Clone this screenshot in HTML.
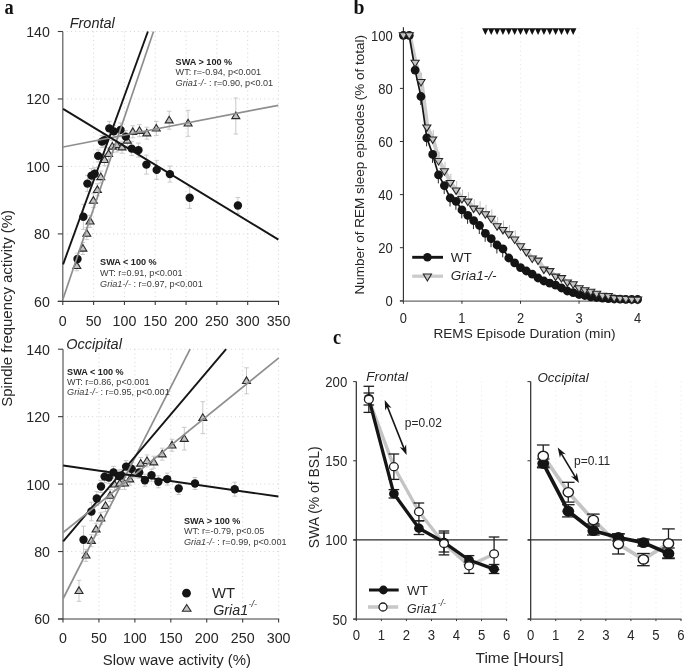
<!DOCTYPE html>
<html><head><meta charset="utf-8"><style>
html,body{margin:0;padding:0;background:#fff;}
svg{display:block;filter:blur(0.3px);}
</style></head><body>
<svg width="685" height="669" viewBox="0 0 685 669">
<rect width="685" height="669" fill="#fff"/>
<line x1="93.61" y1="31.50" x2="93.61" y2="301.40" stroke="#cfcfcf" stroke-width="0.9" stroke-dasharray="1 3.2"/>
<line x1="124.43" y1="31.50" x2="124.43" y2="301.40" stroke="#cfcfcf" stroke-width="0.9" stroke-dasharray="1 3.2"/>
<line x1="155.24" y1="31.50" x2="155.24" y2="301.40" stroke="#cfcfcf" stroke-width="0.9" stroke-dasharray="1 3.2"/>
<line x1="186.06" y1="31.50" x2="186.06" y2="301.40" stroke="#cfcfcf" stroke-width="0.9" stroke-dasharray="1 3.2"/>
<line x1="216.87" y1="31.50" x2="216.87" y2="301.40" stroke="#cfcfcf" stroke-width="0.9" stroke-dasharray="1 3.2"/>
<line x1="247.69" y1="31.50" x2="247.69" y2="301.40" stroke="#cfcfcf" stroke-width="0.9" stroke-dasharray="1 3.2"/>
<line x1="278.50" y1="31.50" x2="278.50" y2="301.40" stroke="#cfcfcf" stroke-width="0.9" stroke-dasharray="1 3.2"/>
<line x1="66.80" y1="233.92" x2="278.50" y2="233.92" stroke="#cfcfcf" stroke-width="0.9" stroke-dasharray="1 3.2"/>
<line x1="66.80" y1="166.45" x2="278.50" y2="166.45" stroke="#cfcfcf" stroke-width="0.9" stroke-dasharray="1 3.2"/>
<line x1="66.80" y1="98.97" x2="278.50" y2="98.97" stroke="#cfcfcf" stroke-width="0.9" stroke-dasharray="1 3.2"/>
<line x1="66.80" y1="31.50" x2="278.50" y2="31.50" stroke="#cfcfcf" stroke-width="0.9" stroke-dasharray="1 3.2"/>
<line x1="62.80" y1="31.50" x2="62.80" y2="301.40" stroke="#5a5a5a" stroke-width="1.2" />
<line x1="57.80" y1="301.40" x2="279.10" y2="301.40" stroke="#3c3c3c" stroke-width="1.2" />
<line x1="57.80" y1="301.40" x2="62.80" y2="301.40" stroke="#3c3c3c" stroke-width="1.1" />
<text transform="translate(49.80,306.80) scale(0.94,1)" font-family='"Liberation Sans", sans-serif' font-size="15.1" fill="#262626" text-anchor="end" font-weight="normal" font-style="normal" >60</text>
<line x1="57.80" y1="233.92" x2="62.80" y2="233.92" stroke="#3c3c3c" stroke-width="1.1" />
<text transform="translate(49.80,239.32) scale(0.94,1)" font-family='"Liberation Sans", sans-serif' font-size="15.1" fill="#262626" text-anchor="end" font-weight="normal" font-style="normal" >80</text>
<line x1="57.80" y1="166.45" x2="62.80" y2="166.45" stroke="#3c3c3c" stroke-width="1.1" />
<text transform="translate(49.80,171.85) scale(0.94,1)" font-family='"Liberation Sans", sans-serif' font-size="15.1" fill="#262626" text-anchor="end" font-weight="normal" font-style="normal" >100</text>
<line x1="57.80" y1="98.97" x2="62.80" y2="98.97" stroke="#3c3c3c" stroke-width="1.1" />
<text transform="translate(49.80,104.38) scale(0.94,1)" font-family='"Liberation Sans", sans-serif' font-size="15.1" fill="#262626" text-anchor="end" font-weight="normal" font-style="normal" >120</text>
<line x1="57.80" y1="31.50" x2="62.80" y2="31.50" stroke="#3c3c3c" stroke-width="1.1" />
<text transform="translate(49.80,36.90) scale(0.94,1)" font-family='"Liberation Sans", sans-serif' font-size="15.1" fill="#262626" text-anchor="end" font-weight="normal" font-style="normal" >140</text>
<line x1="62.80" y1="301.40" x2="62.80" y2="305.00" stroke="#3c3c3c" stroke-width="1.1" />
<text transform="translate(62.80,325.60) scale(0.95,1)" font-family='"Liberation Sans", sans-serif' font-size="15.0" fill="#262626" text-anchor="middle" font-weight="normal" font-style="normal" >0</text>
<line x1="93.61" y1="301.40" x2="93.61" y2="305.00" stroke="#3c3c3c" stroke-width="1.1" />
<text transform="translate(93.61,325.60) scale(0.95,1)" font-family='"Liberation Sans", sans-serif' font-size="15.0" fill="#262626" text-anchor="middle" font-weight="normal" font-style="normal" >50</text>
<line x1="124.43" y1="301.40" x2="124.43" y2="305.00" stroke="#3c3c3c" stroke-width="1.1" />
<text transform="translate(124.43,325.60) scale(0.95,1)" font-family='"Liberation Sans", sans-serif' font-size="15.0" fill="#262626" text-anchor="middle" font-weight="normal" font-style="normal" >100</text>
<line x1="155.24" y1="301.40" x2="155.24" y2="305.00" stroke="#3c3c3c" stroke-width="1.1" />
<text transform="translate(155.24,325.60) scale(0.95,1)" font-family='"Liberation Sans", sans-serif' font-size="15.0" fill="#262626" text-anchor="middle" font-weight="normal" font-style="normal" >150</text>
<line x1="186.06" y1="301.40" x2="186.06" y2="305.00" stroke="#3c3c3c" stroke-width="1.1" />
<text transform="translate(186.06,325.60) scale(0.95,1)" font-family='"Liberation Sans", sans-serif' font-size="15.0" fill="#262626" text-anchor="middle" font-weight="normal" font-style="normal" >200</text>
<line x1="216.87" y1="301.40" x2="216.87" y2="305.00" stroke="#3c3c3c" stroke-width="1.1" />
<text transform="translate(216.87,325.60) scale(0.95,1)" font-family='"Liberation Sans", sans-serif' font-size="15.0" fill="#262626" text-anchor="middle" font-weight="normal" font-style="normal" >250</text>
<line x1="247.69" y1="301.40" x2="247.69" y2="305.00" stroke="#3c3c3c" stroke-width="1.1" />
<text transform="translate(247.69,325.60) scale(0.95,1)" font-family='"Liberation Sans", sans-serif' font-size="15.0" fill="#262626" text-anchor="middle" font-weight="normal" font-style="normal" >300</text>
<line x1="278.50" y1="301.40" x2="278.50" y2="305.00" stroke="#3c3c3c" stroke-width="1.1" />
<text transform="translate(278.50,325.60) scale(0.95,1)" font-family='"Liberation Sans", sans-serif' font-size="15.0" fill="#262626" text-anchor="middle" font-weight="normal" font-style="normal" >350</text>
<text x="69.70" y="28.40" font-family='"Liberation Sans", sans-serif' font-size="14.5" fill="#262626" text-anchor="start" font-weight="normal" font-style="italic" >Frontal</text>
<line x1="76.80" y1="260.80" x2="76.80" y2="270.80" stroke="#c4c4c4" stroke-width="0.9" />
<line x1="74.50" y1="260.80" x2="79.10" y2="260.80" stroke="#c4c4c4" stroke-width="0.9" />
<line x1="74.50" y1="270.80" x2="79.10" y2="270.80" stroke="#c4c4c4" stroke-width="0.9" />
<line x1="82.90" y1="242.50" x2="82.90" y2="254.50" stroke="#c4c4c4" stroke-width="0.9" />
<line x1="80.60" y1="242.50" x2="85.20" y2="242.50" stroke="#c4c4c4" stroke-width="0.9" />
<line x1="80.60" y1="254.50" x2="85.20" y2="254.50" stroke="#c4c4c4" stroke-width="0.9" />
<line x1="86.80" y1="227.60" x2="86.80" y2="239.60" stroke="#c4c4c4" stroke-width="0.9" />
<line x1="84.50" y1="227.60" x2="89.10" y2="227.60" stroke="#c4c4c4" stroke-width="0.9" />
<line x1="84.50" y1="239.60" x2="89.10" y2="239.60" stroke="#c4c4c4" stroke-width="0.9" />
<line x1="90.10" y1="215.30" x2="90.10" y2="227.30" stroke="#c4c4c4" stroke-width="0.9" />
<line x1="87.80" y1="215.30" x2="92.40" y2="215.30" stroke="#c4c4c4" stroke-width="0.9" />
<line x1="87.80" y1="227.30" x2="92.40" y2="227.30" stroke="#c4c4c4" stroke-width="0.9" />
<line x1="93.40" y1="193.60" x2="93.40" y2="207.60" stroke="#c4c4c4" stroke-width="0.9" />
<line x1="91.10" y1="193.60" x2="95.70" y2="193.60" stroke="#c4c4c4" stroke-width="0.9" />
<line x1="91.10" y1="207.60" x2="95.70" y2="207.60" stroke="#c4c4c4" stroke-width="0.9" />
<line x1="97.40" y1="183.80" x2="97.40" y2="195.80" stroke="#c4c4c4" stroke-width="0.9" />
<line x1="95.10" y1="183.80" x2="99.70" y2="183.80" stroke="#c4c4c4" stroke-width="0.9" />
<line x1="95.10" y1="195.80" x2="99.70" y2="195.80" stroke="#c4c4c4" stroke-width="0.9" />
<line x1="100.80" y1="171.00" x2="100.80" y2="183.00" stroke="#c4c4c4" stroke-width="0.9" />
<line x1="98.50" y1="171.00" x2="103.10" y2="171.00" stroke="#c4c4c4" stroke-width="0.9" />
<line x1="98.50" y1="183.00" x2="103.10" y2="183.00" stroke="#c4c4c4" stroke-width="0.9" />
<line x1="104.50" y1="153.80" x2="104.50" y2="165.80" stroke="#c4c4c4" stroke-width="0.9" />
<line x1="102.20" y1="153.80" x2="106.80" y2="153.80" stroke="#c4c4c4" stroke-width="0.9" />
<line x1="102.20" y1="165.80" x2="106.80" y2="165.80" stroke="#c4c4c4" stroke-width="0.9" />
<line x1="108.60" y1="147.80" x2="108.60" y2="159.80" stroke="#c4c4c4" stroke-width="0.9" />
<line x1="106.30" y1="147.80" x2="110.90" y2="147.80" stroke="#c4c4c4" stroke-width="0.9" />
<line x1="106.30" y1="159.80" x2="110.90" y2="159.80" stroke="#c4c4c4" stroke-width="0.9" />
<line x1="112.30" y1="140.50" x2="112.30" y2="152.50" stroke="#c4c4c4" stroke-width="0.9" />
<line x1="110.00" y1="140.50" x2="114.60" y2="140.50" stroke="#c4c4c4" stroke-width="0.9" />
<line x1="110.00" y1="152.50" x2="114.60" y2="152.50" stroke="#c4c4c4" stroke-width="0.9" />
<line x1="116.80" y1="138.00" x2="116.80" y2="152.00" stroke="#c4c4c4" stroke-width="0.9" />
<line x1="114.50" y1="138.00" x2="119.10" y2="138.00" stroke="#c4c4c4" stroke-width="0.9" />
<line x1="114.50" y1="152.00" x2="119.10" y2="152.00" stroke="#c4c4c4" stroke-width="0.9" />
<line x1="122.00" y1="141.20" x2="122.00" y2="153.20" stroke="#c4c4c4" stroke-width="0.9" />
<line x1="119.70" y1="141.20" x2="124.30" y2="141.20" stroke="#c4c4c4" stroke-width="0.9" />
<line x1="119.70" y1="153.20" x2="124.30" y2="153.20" stroke="#c4c4c4" stroke-width="0.9" />
<line x1="127.30" y1="134.50" x2="127.30" y2="146.50" stroke="#c4c4c4" stroke-width="0.9" />
<line x1="125.00" y1="134.50" x2="129.60" y2="134.50" stroke="#c4c4c4" stroke-width="0.9" />
<line x1="125.00" y1="146.50" x2="129.60" y2="146.50" stroke="#c4c4c4" stroke-width="0.9" />
<line x1="132.80" y1="125.80" x2="132.80" y2="137.80" stroke="#c4c4c4" stroke-width="0.9" />
<line x1="130.50" y1="125.80" x2="135.10" y2="125.80" stroke="#c4c4c4" stroke-width="0.9" />
<line x1="130.50" y1="137.80" x2="135.10" y2="137.80" stroke="#c4c4c4" stroke-width="0.9" />
<line x1="139.50" y1="124.70" x2="139.50" y2="136.70" stroke="#c4c4c4" stroke-width="0.9" />
<line x1="137.20" y1="124.70" x2="141.80" y2="124.70" stroke="#c4c4c4" stroke-width="0.9" />
<line x1="137.20" y1="136.70" x2="141.80" y2="136.70" stroke="#c4c4c4" stroke-width="0.9" />
<line x1="146.80" y1="127.20" x2="146.80" y2="139.20" stroke="#c4c4c4" stroke-width="0.9" />
<line x1="144.50" y1="127.20" x2="149.10" y2="127.20" stroke="#c4c4c4" stroke-width="0.9" />
<line x1="144.50" y1="139.20" x2="149.10" y2="139.20" stroke="#c4c4c4" stroke-width="0.9" />
<line x1="156.30" y1="121.40" x2="156.30" y2="135.40" stroke="#c4c4c4" stroke-width="0.9" />
<line x1="154.00" y1="121.40" x2="158.60" y2="121.40" stroke="#c4c4c4" stroke-width="0.9" />
<line x1="154.00" y1="135.40" x2="158.60" y2="135.40" stroke="#c4c4c4" stroke-width="0.9" />
<line x1="169.20" y1="111.20" x2="169.20" y2="129.20" stroke="#c4c4c4" stroke-width="0.9" />
<line x1="166.90" y1="111.20" x2="171.50" y2="111.20" stroke="#c4c4c4" stroke-width="0.9" />
<line x1="166.90" y1="129.20" x2="171.50" y2="129.20" stroke="#c4c4c4" stroke-width="0.9" />
<line x1="188.10" y1="110.30" x2="188.10" y2="136.30" stroke="#c4c4c4" stroke-width="0.9" />
<line x1="185.80" y1="110.30" x2="190.40" y2="110.30" stroke="#c4c4c4" stroke-width="0.9" />
<line x1="185.80" y1="136.30" x2="190.40" y2="136.30" stroke="#c4c4c4" stroke-width="0.9" />
<line x1="235.80" y1="98.00" x2="235.80" y2="134.00" stroke="#c4c4c4" stroke-width="0.9" />
<line x1="233.50" y1="98.00" x2="238.10" y2="98.00" stroke="#c4c4c4" stroke-width="0.9" />
<line x1="233.50" y1="134.00" x2="238.10" y2="134.00" stroke="#c4c4c4" stroke-width="0.9" />
<line x1="77.50" y1="253.00" x2="77.50" y2="265.00" stroke="#c4c4c4" stroke-width="0.9" />
<line x1="75.20" y1="253.00" x2="79.80" y2="253.00" stroke="#c4c4c4" stroke-width="0.9" />
<line x1="75.20" y1="265.00" x2="79.80" y2="265.00" stroke="#c4c4c4" stroke-width="0.9" />
<line x1="83.40" y1="204.30" x2="83.40" y2="229.30" stroke="#c4c4c4" stroke-width="0.9" />
<line x1="81.10" y1="204.30" x2="85.70" y2="204.30" stroke="#c4c4c4" stroke-width="0.9" />
<line x1="81.10" y1="229.30" x2="85.70" y2="229.30" stroke="#c4c4c4" stroke-width="0.9" />
<line x1="87.40" y1="175.60" x2="87.40" y2="191.60" stroke="#c4c4c4" stroke-width="0.9" />
<line x1="85.10" y1="175.60" x2="89.70" y2="175.60" stroke="#c4c4c4" stroke-width="0.9" />
<line x1="85.10" y1="191.60" x2="89.70" y2="191.60" stroke="#c4c4c4" stroke-width="0.9" />
<line x1="91.50" y1="168.60" x2="91.50" y2="182.60" stroke="#c4c4c4" stroke-width="0.9" />
<line x1="89.20" y1="168.60" x2="93.80" y2="168.60" stroke="#c4c4c4" stroke-width="0.9" />
<line x1="89.20" y1="182.60" x2="93.80" y2="182.60" stroke="#c4c4c4" stroke-width="0.9" />
<line x1="94.70" y1="167.70" x2="94.70" y2="179.70" stroke="#c4c4c4" stroke-width="0.9" />
<line x1="92.40" y1="167.70" x2="97.00" y2="167.70" stroke="#c4c4c4" stroke-width="0.9" />
<line x1="92.40" y1="179.70" x2="97.00" y2="179.70" stroke="#c4c4c4" stroke-width="0.9" />
<line x1="98.20" y1="149.90" x2="98.20" y2="161.90" stroke="#c4c4c4" stroke-width="0.9" />
<line x1="95.90" y1="149.90" x2="100.50" y2="149.90" stroke="#c4c4c4" stroke-width="0.9" />
<line x1="95.90" y1="161.90" x2="100.50" y2="161.90" stroke="#c4c4c4" stroke-width="0.9" />
<line x1="101.90" y1="135.60" x2="101.90" y2="147.60" stroke="#c4c4c4" stroke-width="0.9" />
<line x1="99.60" y1="135.60" x2="104.20" y2="135.60" stroke="#c4c4c4" stroke-width="0.9" />
<line x1="99.60" y1="147.60" x2="104.20" y2="147.60" stroke="#c4c4c4" stroke-width="0.9" />
<line x1="104.50" y1="134.30" x2="104.50" y2="146.30" stroke="#c4c4c4" stroke-width="0.9" />
<line x1="102.20" y1="134.30" x2="106.80" y2="134.30" stroke="#c4c4c4" stroke-width="0.9" />
<line x1="102.20" y1="146.30" x2="106.80" y2="146.30" stroke="#c4c4c4" stroke-width="0.9" />
<line x1="109.30" y1="121.40" x2="109.30" y2="135.40" stroke="#c4c4c4" stroke-width="0.9" />
<line x1="107.00" y1="121.40" x2="111.60" y2="121.40" stroke="#c4c4c4" stroke-width="0.9" />
<line x1="107.00" y1="135.40" x2="111.60" y2="135.40" stroke="#c4c4c4" stroke-width="0.9" />
<line x1="113.80" y1="125.40" x2="113.80" y2="137.40" stroke="#c4c4c4" stroke-width="0.9" />
<line x1="111.50" y1="125.40" x2="116.10" y2="125.40" stroke="#c4c4c4" stroke-width="0.9" />
<line x1="111.50" y1="137.40" x2="116.10" y2="137.40" stroke="#c4c4c4" stroke-width="0.9" />
<line x1="120.50" y1="122.90" x2="120.50" y2="136.90" stroke="#c4c4c4" stroke-width="0.9" />
<line x1="118.20" y1="122.90" x2="122.80" y2="122.90" stroke="#c4c4c4" stroke-width="0.9" />
<line x1="118.20" y1="136.90" x2="122.80" y2="136.90" stroke="#c4c4c4" stroke-width="0.9" />
<line x1="125.80" y1="130.60" x2="125.80" y2="142.60" stroke="#c4c4c4" stroke-width="0.9" />
<line x1="123.50" y1="130.60" x2="128.10" y2="130.60" stroke="#c4c4c4" stroke-width="0.9" />
<line x1="123.50" y1="142.60" x2="128.10" y2="142.60" stroke="#c4c4c4" stroke-width="0.9" />
<line x1="131.70" y1="141.60" x2="131.70" y2="155.60" stroke="#c4c4c4" stroke-width="0.9" />
<line x1="129.40" y1="141.60" x2="134.00" y2="141.60" stroke="#c4c4c4" stroke-width="0.9" />
<line x1="129.40" y1="155.60" x2="134.00" y2="155.60" stroke="#c4c4c4" stroke-width="0.9" />
<line x1="138.50" y1="143.10" x2="138.50" y2="157.10" stroke="#c4c4c4" stroke-width="0.9" />
<line x1="136.20" y1="143.10" x2="140.80" y2="143.10" stroke="#c4c4c4" stroke-width="0.9" />
<line x1="136.20" y1="157.10" x2="140.80" y2="157.10" stroke="#c4c4c4" stroke-width="0.9" />
<line x1="146.40" y1="155.10" x2="146.40" y2="174.10" stroke="#c4c4c4" stroke-width="0.9" />
<line x1="144.10" y1="155.10" x2="148.70" y2="155.10" stroke="#c4c4c4" stroke-width="0.9" />
<line x1="144.10" y1="174.10" x2="148.70" y2="174.10" stroke="#c4c4c4" stroke-width="0.9" />
<line x1="156.70" y1="160.40" x2="156.70" y2="179.40" stroke="#c4c4c4" stroke-width="0.9" />
<line x1="154.40" y1="160.40" x2="159.00" y2="160.40" stroke="#c4c4c4" stroke-width="0.9" />
<line x1="154.40" y1="179.40" x2="159.00" y2="179.40" stroke="#c4c4c4" stroke-width="0.9" />
<line x1="169.90" y1="166.10" x2="169.90" y2="182.10" stroke="#c4c4c4" stroke-width="0.9" />
<line x1="167.60" y1="166.10" x2="172.20" y2="166.10" stroke="#c4c4c4" stroke-width="0.9" />
<line x1="167.60" y1="182.10" x2="172.20" y2="182.10" stroke="#c4c4c4" stroke-width="0.9" />
<line x1="189.70" y1="187.00" x2="189.70" y2="208.40" stroke="#c4c4c4" stroke-width="0.9" />
<line x1="187.40" y1="187.00" x2="192.00" y2="187.00" stroke="#c4c4c4" stroke-width="0.9" />
<line x1="187.40" y1="208.40" x2="192.00" y2="208.40" stroke="#c4c4c4" stroke-width="0.9" />
<line x1="237.90" y1="197.50" x2="237.90" y2="213.50" stroke="#c4c4c4" stroke-width="0.9" />
<line x1="235.60" y1="197.50" x2="240.20" y2="197.50" stroke="#c4c4c4" stroke-width="0.9" />
<line x1="235.60" y1="213.50" x2="240.20" y2="213.50" stroke="#c4c4c4" stroke-width="0.9" />
<polygon points="76.80,261.84 72.80,268.44 80.80,268.44" fill="#c2c2c2" stroke="#2a2a2a" stroke-width="1.1" stroke-linejoin="miter"/>
<polygon points="82.90,244.54 78.90,251.14 86.90,251.14" fill="#c2c2c2" stroke="#2a2a2a" stroke-width="1.1" stroke-linejoin="miter"/>
<polygon points="86.80,229.64 82.80,236.24 90.80,236.24" fill="#c2c2c2" stroke="#2a2a2a" stroke-width="1.1" stroke-linejoin="miter"/>
<polygon points="90.10,217.34 86.10,223.94 94.10,223.94" fill="#c2c2c2" stroke="#2a2a2a" stroke-width="1.1" stroke-linejoin="miter"/>
<polygon points="93.40,196.64 89.40,203.24 97.40,203.24" fill="#c2c2c2" stroke="#2a2a2a" stroke-width="1.1" stroke-linejoin="miter"/>
<polygon points="97.40,185.84 93.40,192.44 101.40,192.44" fill="#c2c2c2" stroke="#2a2a2a" stroke-width="1.1" stroke-linejoin="miter"/>
<polygon points="100.80,173.04 96.80,179.64 104.80,179.64" fill="#c2c2c2" stroke="#2a2a2a" stroke-width="1.1" stroke-linejoin="miter"/>
<polygon points="104.50,155.84 100.50,162.44 108.50,162.44" fill="#c2c2c2" stroke="#2a2a2a" stroke-width="1.1" stroke-linejoin="miter"/>
<polygon points="108.60,149.84 104.60,156.44 112.60,156.44" fill="#c2c2c2" stroke="#2a2a2a" stroke-width="1.1" stroke-linejoin="miter"/>
<polygon points="112.30,142.54 108.30,149.14 116.30,149.14" fill="#c2c2c2" stroke="#2a2a2a" stroke-width="1.1" stroke-linejoin="miter"/>
<polygon points="116.80,141.04 112.80,147.64 120.80,147.64" fill="#c2c2c2" stroke="#2a2a2a" stroke-width="1.1" stroke-linejoin="miter"/>
<polygon points="122.00,143.24 118.00,149.84 126.00,149.84" fill="#c2c2c2" stroke="#2a2a2a" stroke-width="1.1" stroke-linejoin="miter"/>
<polygon points="127.30,136.54 123.30,143.14 131.30,143.14" fill="#c2c2c2" stroke="#2a2a2a" stroke-width="1.1" stroke-linejoin="miter"/>
<polygon points="132.80,127.84 128.80,134.44 136.80,134.44" fill="#c2c2c2" stroke="#2a2a2a" stroke-width="1.1" stroke-linejoin="miter"/>
<polygon points="139.50,126.74 135.50,133.34 143.50,133.34" fill="#c2c2c2" stroke="#2a2a2a" stroke-width="1.1" stroke-linejoin="miter"/>
<polygon points="146.80,129.24 142.80,135.84 150.80,135.84" fill="#c2c2c2" stroke="#2a2a2a" stroke-width="1.1" stroke-linejoin="miter"/>
<polygon points="156.30,124.44 152.30,131.04 160.30,131.04" fill="#c2c2c2" stroke="#2a2a2a" stroke-width="1.1" stroke-linejoin="miter"/>
<polygon points="169.20,116.24 165.20,122.84 173.20,122.84" fill="#c2c2c2" stroke="#2a2a2a" stroke-width="1.1" stroke-linejoin="miter"/>
<polygon points="188.10,119.34 184.10,125.94 192.10,125.94" fill="#c2c2c2" stroke="#2a2a2a" stroke-width="1.1" stroke-linejoin="miter"/>
<polygon points="235.80,112.04 231.80,118.64 239.80,118.64" fill="#c2c2c2" stroke="#2a2a2a" stroke-width="1.1" stroke-linejoin="miter"/>
<circle cx="77.50" cy="259.00" r="4.2" fill="#141414" stroke="none" stroke-width="0"/>
<circle cx="83.40" cy="216.80" r="4.2" fill="#141414" stroke="none" stroke-width="0"/>
<circle cx="87.40" cy="183.60" r="4.2" fill="#141414" stroke="none" stroke-width="0"/>
<circle cx="91.50" cy="175.60" r="4.2" fill="#141414" stroke="none" stroke-width="0"/>
<circle cx="94.70" cy="173.70" r="4.2" fill="#141414" stroke="none" stroke-width="0"/>
<circle cx="98.20" cy="155.90" r="4.2" fill="#141414" stroke="none" stroke-width="0"/>
<circle cx="101.90" cy="141.60" r="4.2" fill="#141414" stroke="none" stroke-width="0"/>
<circle cx="104.50" cy="140.30" r="4.2" fill="#141414" stroke="none" stroke-width="0"/>
<circle cx="109.30" cy="128.40" r="4.2" fill="#141414" stroke="none" stroke-width="0"/>
<circle cx="113.80" cy="131.40" r="4.2" fill="#141414" stroke="none" stroke-width="0"/>
<circle cx="120.50" cy="129.90" r="4.2" fill="#141414" stroke="none" stroke-width="0"/>
<circle cx="125.80" cy="136.60" r="4.2" fill="#141414" stroke="none" stroke-width="0"/>
<circle cx="131.70" cy="148.60" r="4.2" fill="#141414" stroke="none" stroke-width="0"/>
<circle cx="138.50" cy="150.10" r="4.2" fill="#141414" stroke="none" stroke-width="0"/>
<circle cx="146.40" cy="164.60" r="4.2" fill="#141414" stroke="none" stroke-width="0"/>
<circle cx="156.70" cy="169.90" r="4.2" fill="#141414" stroke="none" stroke-width="0"/>
<circle cx="169.90" cy="174.10" r="4.2" fill="#141414" stroke="none" stroke-width="0"/>
<circle cx="189.70" cy="197.70" r="4.2" fill="#141414" stroke="none" stroke-width="0"/>
<circle cx="237.90" cy="205.50" r="4.2" fill="#141414" stroke="none" stroke-width="0"/>
<line x1="62.90" y1="299.30" x2="153.50" y2="31.50" stroke="#8e8e8e" stroke-width="1.7" />
<line x1="63.10" y1="264.30" x2="147.90" y2="31.50" stroke="#151515" stroke-width="1.9" />
<line x1="63.10" y1="147.00" x2="278.40" y2="105.30" stroke="#8e8e8e" stroke-width="1.7" />
<line x1="63.10" y1="108.90" x2="278.40" y2="239.60" stroke="#151515" stroke-width="1.9" />
<text x="175.60" y="64.60" font-family='"Liberation Sans", sans-serif' font-size="9.1" fill="#222" text-anchor="start" font-weight="bold" font-style="normal" >SWA &gt; 100 %</text>
<text x="175.60" y="74.80" font-family='"Liberation Sans", sans-serif' font-size="9.1" fill="#3a3a3a" text-anchor="start" font-weight="normal" font-style="normal" >WT: r=-0.94, p&lt;0.001</text>
<text x="175.60" y="86.00" font-family='"Liberation Sans", sans-serif' font-size="9.1" fill="#3a3a3a" text-anchor="start" font-weight="normal" font-style="normal" ><tspan font-style="italic">Gria1-/-</tspan> : r=0.90, p&lt;0.01</text>
<text x="100.10" y="265.20" font-family='"Liberation Sans", sans-serif' font-size="9.1" fill="#222" text-anchor="start" font-weight="bold" font-style="normal" >SWA &lt; 100 %</text>
<text x="100.10" y="275.50" font-family='"Liberation Sans", sans-serif' font-size="9.1" fill="#3a3a3a" text-anchor="start" font-weight="normal" font-style="normal" >WT: r=0.91, p&lt;0.001</text>
<text x="100.10" y="286.60" font-family='"Liberation Sans", sans-serif' font-size="9.1" fill="#3a3a3a" text-anchor="start" font-weight="normal" font-style="normal" ><tspan font-style="italic">Gria1-/-</tspan> : r=0.97, p&lt;0.001</text>
<line x1="98.93" y1="349.20" x2="98.93" y2="619.00" stroke="#cfcfcf" stroke-width="0.9" stroke-dasharray="1 3.2"/>
<line x1="134.87" y1="349.20" x2="134.87" y2="619.00" stroke="#cfcfcf" stroke-width="0.9" stroke-dasharray="1 3.2"/>
<line x1="170.80" y1="349.20" x2="170.80" y2="619.00" stroke="#cfcfcf" stroke-width="0.9" stroke-dasharray="1 3.2"/>
<line x1="206.73" y1="349.20" x2="206.73" y2="619.00" stroke="#cfcfcf" stroke-width="0.9" stroke-dasharray="1 3.2"/>
<line x1="242.67" y1="349.20" x2="242.67" y2="619.00" stroke="#cfcfcf" stroke-width="0.9" stroke-dasharray="1 3.2"/>
<line x1="278.60" y1="349.20" x2="278.60" y2="619.00" stroke="#cfcfcf" stroke-width="0.9" stroke-dasharray="1 3.2"/>
<line x1="67.00" y1="551.55" x2="278.60" y2="551.55" stroke="#cfcfcf" stroke-width="0.9" stroke-dasharray="1 3.2"/>
<line x1="67.00" y1="484.10" x2="278.60" y2="484.10" stroke="#cfcfcf" stroke-width="0.9" stroke-dasharray="1 3.2"/>
<line x1="67.00" y1="416.65" x2="278.60" y2="416.65" stroke="#cfcfcf" stroke-width="0.9" stroke-dasharray="1 3.2"/>
<line x1="67.00" y1="349.20" x2="278.60" y2="349.20" stroke="#cfcfcf" stroke-width="0.9" stroke-dasharray="1 3.2"/>
<line x1="63.00" y1="349.20" x2="63.00" y2="619.00" stroke="#5a5a5a" stroke-width="1.2" />
<line x1="58.00" y1="619.00" x2="279.20" y2="619.00" stroke="#3c3c3c" stroke-width="1.2" />
<line x1="58.00" y1="619.00" x2="63.00" y2="619.00" stroke="#3c3c3c" stroke-width="1.1" />
<text transform="translate(50.00,624.40) scale(0.94,1)" font-family='"Liberation Sans", sans-serif' font-size="15.1" fill="#262626" text-anchor="end" font-weight="normal" font-style="normal" >60</text>
<line x1="58.00" y1="551.55" x2="63.00" y2="551.55" stroke="#3c3c3c" stroke-width="1.1" />
<text transform="translate(50.00,556.95) scale(0.94,1)" font-family='"Liberation Sans", sans-serif' font-size="15.1" fill="#262626" text-anchor="end" font-weight="normal" font-style="normal" >80</text>
<line x1="58.00" y1="484.10" x2="63.00" y2="484.10" stroke="#3c3c3c" stroke-width="1.1" />
<text transform="translate(50.00,489.50) scale(0.94,1)" font-family='"Liberation Sans", sans-serif' font-size="15.1" fill="#262626" text-anchor="end" font-weight="normal" font-style="normal" >100</text>
<line x1="58.00" y1="416.65" x2="63.00" y2="416.65" stroke="#3c3c3c" stroke-width="1.1" />
<text transform="translate(50.00,422.05) scale(0.94,1)" font-family='"Liberation Sans", sans-serif' font-size="15.1" fill="#262626" text-anchor="end" font-weight="normal" font-style="normal" >120</text>
<line x1="58.00" y1="349.20" x2="63.00" y2="349.20" stroke="#3c3c3c" stroke-width="1.1" />
<text transform="translate(50.00,354.60) scale(0.94,1)" font-family='"Liberation Sans", sans-serif' font-size="15.1" fill="#262626" text-anchor="end" font-weight="normal" font-style="normal" >140</text>
<line x1="63.00" y1="619.00" x2="63.00" y2="622.60" stroke="#3c3c3c" stroke-width="1.1" />
<text transform="translate(63.00,642.80) scale(0.95,1)" font-family='"Liberation Sans", sans-serif' font-size="15.0" fill="#262626" text-anchor="middle" font-weight="normal" font-style="normal" >0</text>
<line x1="98.93" y1="619.00" x2="98.93" y2="622.60" stroke="#3c3c3c" stroke-width="1.1" />
<text transform="translate(98.93,642.80) scale(0.95,1)" font-family='"Liberation Sans", sans-serif' font-size="15.0" fill="#262626" text-anchor="middle" font-weight="normal" font-style="normal" >50</text>
<line x1="134.87" y1="619.00" x2="134.87" y2="622.60" stroke="#3c3c3c" stroke-width="1.1" />
<text transform="translate(134.87,642.80) scale(0.95,1)" font-family='"Liberation Sans", sans-serif' font-size="15.0" fill="#262626" text-anchor="middle" font-weight="normal" font-style="normal" >100</text>
<line x1="170.80" y1="619.00" x2="170.80" y2="622.60" stroke="#3c3c3c" stroke-width="1.1" />
<text transform="translate(170.80,642.80) scale(0.95,1)" font-family='"Liberation Sans", sans-serif' font-size="15.0" fill="#262626" text-anchor="middle" font-weight="normal" font-style="normal" >150</text>
<line x1="206.73" y1="619.00" x2="206.73" y2="622.60" stroke="#3c3c3c" stroke-width="1.1" />
<text transform="translate(206.73,642.80) scale(0.95,1)" font-family='"Liberation Sans", sans-serif' font-size="15.0" fill="#262626" text-anchor="middle" font-weight="normal" font-style="normal" >200</text>
<line x1="242.67" y1="619.00" x2="242.67" y2="622.60" stroke="#3c3c3c" stroke-width="1.1" />
<text transform="translate(242.67,642.80) scale(0.95,1)" font-family='"Liberation Sans", sans-serif' font-size="15.0" fill="#262626" text-anchor="middle" font-weight="normal" font-style="normal" >250</text>
<line x1="278.60" y1="619.00" x2="278.60" y2="622.60" stroke="#3c3c3c" stroke-width="1.1" />
<text transform="translate(278.60,642.80) scale(0.95,1)" font-family='"Liberation Sans", sans-serif' font-size="15.0" fill="#262626" text-anchor="middle" font-weight="normal" font-style="normal" >300</text>
<text x="66.30" y="348.70" font-family='"Liberation Sans", sans-serif' font-size="14.5" fill="#262626" text-anchor="start" font-weight="normal" font-style="italic" >Occipital</text>
<line x1="79.00" y1="580.30" x2="79.00" y2="601.30" stroke="#c4c4c4" stroke-width="0.9" />
<line x1="76.70" y1="580.30" x2="81.30" y2="580.30" stroke="#c4c4c4" stroke-width="0.9" />
<line x1="76.70" y1="601.30" x2="81.30" y2="601.30" stroke="#c4c4c4" stroke-width="0.9" />
<line x1="86.00" y1="549.40" x2="86.00" y2="561.40" stroke="#c4c4c4" stroke-width="0.9" />
<line x1="83.70" y1="549.40" x2="88.30" y2="549.40" stroke="#c4c4c4" stroke-width="0.9" />
<line x1="83.70" y1="561.40" x2="88.30" y2="561.40" stroke="#c4c4c4" stroke-width="0.9" />
<line x1="91.40" y1="534.70" x2="91.40" y2="546.70" stroke="#c4c4c4" stroke-width="0.9" />
<line x1="89.10" y1="534.70" x2="93.70" y2="534.70" stroke="#c4c4c4" stroke-width="0.9" />
<line x1="89.10" y1="546.70" x2="93.70" y2="546.70" stroke="#c4c4c4" stroke-width="0.9" />
<line x1="96.10" y1="523.20" x2="96.10" y2="535.20" stroke="#c4c4c4" stroke-width="0.9" />
<line x1="93.80" y1="523.20" x2="98.40" y2="523.20" stroke="#c4c4c4" stroke-width="0.9" />
<line x1="93.80" y1="535.20" x2="98.40" y2="535.20" stroke="#c4c4c4" stroke-width="0.9" />
<line x1="100.80" y1="512.30" x2="100.80" y2="524.30" stroke="#c4c4c4" stroke-width="0.9" />
<line x1="98.50" y1="512.30" x2="103.10" y2="512.30" stroke="#c4c4c4" stroke-width="0.9" />
<line x1="98.50" y1="524.30" x2="103.10" y2="524.30" stroke="#c4c4c4" stroke-width="0.9" />
<line x1="105.50" y1="499.70" x2="105.50" y2="511.70" stroke="#c4c4c4" stroke-width="0.9" />
<line x1="103.20" y1="499.70" x2="107.80" y2="499.70" stroke="#c4c4c4" stroke-width="0.9" />
<line x1="103.20" y1="511.70" x2="107.80" y2="511.70" stroke="#c4c4c4" stroke-width="0.9" />
<line x1="110.10" y1="489.60" x2="110.10" y2="501.60" stroke="#c4c4c4" stroke-width="0.9" />
<line x1="107.80" y1="489.60" x2="112.40" y2="489.60" stroke="#c4c4c4" stroke-width="0.9" />
<line x1="107.80" y1="501.60" x2="112.40" y2="501.60" stroke="#c4c4c4" stroke-width="0.9" />
<line x1="114.60" y1="478.40" x2="114.60" y2="490.40" stroke="#c4c4c4" stroke-width="0.9" />
<line x1="112.30" y1="478.40" x2="116.90" y2="478.40" stroke="#c4c4c4" stroke-width="0.9" />
<line x1="112.30" y1="490.40" x2="116.90" y2="490.40" stroke="#c4c4c4" stroke-width="0.9" />
<line x1="119.80" y1="477.40" x2="119.80" y2="489.40" stroke="#c4c4c4" stroke-width="0.9" />
<line x1="117.50" y1="477.40" x2="122.10" y2="477.40" stroke="#c4c4c4" stroke-width="0.9" />
<line x1="117.50" y1="489.40" x2="122.10" y2="489.40" stroke="#c4c4c4" stroke-width="0.9" />
<line x1="124.50" y1="477.40" x2="124.50" y2="489.40" stroke="#c4c4c4" stroke-width="0.9" />
<line x1="122.20" y1="477.40" x2="126.80" y2="477.40" stroke="#c4c4c4" stroke-width="0.9" />
<line x1="122.20" y1="489.40" x2="126.80" y2="489.40" stroke="#c4c4c4" stroke-width="0.9" />
<line x1="129.80" y1="473.20" x2="129.80" y2="485.20" stroke="#c4c4c4" stroke-width="0.9" />
<line x1="127.50" y1="473.20" x2="132.10" y2="473.20" stroke="#c4c4c4" stroke-width="0.9" />
<line x1="127.50" y1="485.20" x2="132.10" y2="485.20" stroke="#c4c4c4" stroke-width="0.9" />
<line x1="135.00" y1="465.90" x2="135.00" y2="477.90" stroke="#c4c4c4" stroke-width="0.9" />
<line x1="132.70" y1="465.90" x2="137.30" y2="465.90" stroke="#c4c4c4" stroke-width="0.9" />
<line x1="132.70" y1="477.90" x2="137.30" y2="477.90" stroke="#c4c4c4" stroke-width="0.9" />
<line x1="140.70" y1="457.50" x2="140.70" y2="469.50" stroke="#c4c4c4" stroke-width="0.9" />
<line x1="138.40" y1="457.50" x2="143.00" y2="457.50" stroke="#c4c4c4" stroke-width="0.9" />
<line x1="138.40" y1="469.50" x2="143.00" y2="469.50" stroke="#c4c4c4" stroke-width="0.9" />
<line x1="147.00" y1="454.90" x2="147.00" y2="466.90" stroke="#c4c4c4" stroke-width="0.9" />
<line x1="144.70" y1="454.90" x2="149.30" y2="454.90" stroke="#c4c4c4" stroke-width="0.9" />
<line x1="144.70" y1="466.90" x2="149.30" y2="466.90" stroke="#c4c4c4" stroke-width="0.9" />
<line x1="153.80" y1="456.20" x2="153.80" y2="468.20" stroke="#c4c4c4" stroke-width="0.9" />
<line x1="151.50" y1="456.20" x2="156.10" y2="456.20" stroke="#c4c4c4" stroke-width="0.9" />
<line x1="151.50" y1="468.20" x2="156.10" y2="468.20" stroke="#c4c4c4" stroke-width="0.9" />
<line x1="162.20" y1="448.20" x2="162.20" y2="460.20" stroke="#c4c4c4" stroke-width="0.9" />
<line x1="159.90" y1="448.20" x2="164.50" y2="448.20" stroke="#c4c4c4" stroke-width="0.9" />
<line x1="159.90" y1="460.20" x2="164.50" y2="460.20" stroke="#c4c4c4" stroke-width="0.9" />
<line x1="172.00" y1="439.30" x2="172.00" y2="451.30" stroke="#c4c4c4" stroke-width="0.9" />
<line x1="169.70" y1="439.30" x2="174.30" y2="439.30" stroke="#c4c4c4" stroke-width="0.9" />
<line x1="169.70" y1="451.30" x2="174.30" y2="451.30" stroke="#c4c4c4" stroke-width="0.9" />
<line x1="184.30" y1="427.30" x2="184.30" y2="450.10" stroke="#c4c4c4" stroke-width="0.9" />
<line x1="182.00" y1="427.30" x2="186.60" y2="427.30" stroke="#c4c4c4" stroke-width="0.9" />
<line x1="182.00" y1="450.10" x2="186.60" y2="450.10" stroke="#c4c4c4" stroke-width="0.9" />
<line x1="202.80" y1="401.70" x2="202.80" y2="433.70" stroke="#c4c4c4" stroke-width="0.9" />
<line x1="200.50" y1="401.70" x2="205.10" y2="401.70" stroke="#c4c4c4" stroke-width="0.9" />
<line x1="200.50" y1="433.70" x2="205.10" y2="433.70" stroke="#c4c4c4" stroke-width="0.9" />
<line x1="246.50" y1="367.80" x2="246.50" y2="393.80" stroke="#c4c4c4" stroke-width="0.9" />
<line x1="244.20" y1="367.80" x2="248.80" y2="367.80" stroke="#c4c4c4" stroke-width="0.9" />
<line x1="244.20" y1="393.80" x2="248.80" y2="393.80" stroke="#c4c4c4" stroke-width="0.9" />
<line x1="83.50" y1="526.20" x2="83.50" y2="553.20" stroke="#c4c4c4" stroke-width="0.9" />
<line x1="81.20" y1="526.20" x2="85.80" y2="526.20" stroke="#c4c4c4" stroke-width="0.9" />
<line x1="81.20" y1="553.20" x2="85.80" y2="553.20" stroke="#c4c4c4" stroke-width="0.9" />
<line x1="91.40" y1="502.20" x2="91.40" y2="520.80" stroke="#c4c4c4" stroke-width="0.9" />
<line x1="89.10" y1="502.20" x2="93.70" y2="502.20" stroke="#c4c4c4" stroke-width="0.9" />
<line x1="89.10" y1="520.80" x2="93.70" y2="520.80" stroke="#c4c4c4" stroke-width="0.9" />
<line x1="96.80" y1="491.50" x2="96.80" y2="505.50" stroke="#c4c4c4" stroke-width="0.9" />
<line x1="94.50" y1="491.50" x2="99.10" y2="491.50" stroke="#c4c4c4" stroke-width="0.9" />
<line x1="94.50" y1="505.50" x2="99.10" y2="505.50" stroke="#c4c4c4" stroke-width="0.9" />
<line x1="101.00" y1="480.50" x2="101.00" y2="492.50" stroke="#c4c4c4" stroke-width="0.9" />
<line x1="98.70" y1="480.50" x2="103.30" y2="480.50" stroke="#c4c4c4" stroke-width="0.9" />
<line x1="98.70" y1="492.50" x2="103.30" y2="492.50" stroke="#c4c4c4" stroke-width="0.9" />
<line x1="104.60" y1="470.60" x2="104.60" y2="482.60" stroke="#c4c4c4" stroke-width="0.9" />
<line x1="102.30" y1="470.60" x2="106.90" y2="470.60" stroke="#c4c4c4" stroke-width="0.9" />
<line x1="102.30" y1="482.60" x2="106.90" y2="482.60" stroke="#c4c4c4" stroke-width="0.9" />
<line x1="108.80" y1="471.60" x2="108.80" y2="483.60" stroke="#c4c4c4" stroke-width="0.9" />
<line x1="106.50" y1="471.60" x2="111.10" y2="471.60" stroke="#c4c4c4" stroke-width="0.9" />
<line x1="106.50" y1="483.60" x2="111.10" y2="483.60" stroke="#c4c4c4" stroke-width="0.9" />
<line x1="113.50" y1="466.40" x2="113.50" y2="478.40" stroke="#c4c4c4" stroke-width="0.9" />
<line x1="111.20" y1="466.40" x2="115.80" y2="466.40" stroke="#c4c4c4" stroke-width="0.9" />
<line x1="111.20" y1="478.40" x2="115.80" y2="478.40" stroke="#c4c4c4" stroke-width="0.9" />
<line x1="118.80" y1="470.00" x2="118.80" y2="482.00" stroke="#c4c4c4" stroke-width="0.9" />
<line x1="116.50" y1="470.00" x2="121.10" y2="470.00" stroke="#c4c4c4" stroke-width="0.9" />
<line x1="116.50" y1="482.00" x2="121.10" y2="482.00" stroke="#c4c4c4" stroke-width="0.9" />
<line x1="121.40" y1="469.50" x2="121.40" y2="481.50" stroke="#c4c4c4" stroke-width="0.9" />
<line x1="119.10" y1="469.50" x2="123.70" y2="469.50" stroke="#c4c4c4" stroke-width="0.9" />
<line x1="119.10" y1="481.50" x2="123.70" y2="481.50" stroke="#c4c4c4" stroke-width="0.9" />
<line x1="126.10" y1="460.60" x2="126.10" y2="472.60" stroke="#c4c4c4" stroke-width="0.9" />
<line x1="123.80" y1="460.60" x2="128.40" y2="460.60" stroke="#c4c4c4" stroke-width="0.9" />
<line x1="123.80" y1="472.60" x2="128.40" y2="472.60" stroke="#c4c4c4" stroke-width="0.9" />
<line x1="131.30" y1="462.70" x2="131.30" y2="474.70" stroke="#c4c4c4" stroke-width="0.9" />
<line x1="129.00" y1="462.70" x2="133.60" y2="462.70" stroke="#c4c4c4" stroke-width="0.9" />
<line x1="129.00" y1="474.70" x2="133.60" y2="474.70" stroke="#c4c4c4" stroke-width="0.9" />
<line x1="139.20" y1="466.40" x2="139.20" y2="478.40" stroke="#c4c4c4" stroke-width="0.9" />
<line x1="136.90" y1="466.40" x2="141.50" y2="466.40" stroke="#c4c4c4" stroke-width="0.9" />
<line x1="136.90" y1="478.40" x2="141.50" y2="478.40" stroke="#c4c4c4" stroke-width="0.9" />
<line x1="144.90" y1="474.20" x2="144.90" y2="486.20" stroke="#c4c4c4" stroke-width="0.9" />
<line x1="142.60" y1="474.20" x2="147.20" y2="474.20" stroke="#c4c4c4" stroke-width="0.9" />
<line x1="142.60" y1="486.20" x2="147.20" y2="486.20" stroke="#c4c4c4" stroke-width="0.9" />
<line x1="151.50" y1="469.30" x2="151.50" y2="481.30" stroke="#c4c4c4" stroke-width="0.9" />
<line x1="149.20" y1="469.30" x2="153.80" y2="469.30" stroke="#c4c4c4" stroke-width="0.9" />
<line x1="149.20" y1="481.30" x2="153.80" y2="481.30" stroke="#c4c4c4" stroke-width="0.9" />
<line x1="158.40" y1="475.80" x2="158.40" y2="487.80" stroke="#c4c4c4" stroke-width="0.9" />
<line x1="156.10" y1="475.80" x2="160.70" y2="475.80" stroke="#c4c4c4" stroke-width="0.9" />
<line x1="156.10" y1="487.80" x2="160.70" y2="487.80" stroke="#c4c4c4" stroke-width="0.9" />
<line x1="167.20" y1="473.10" x2="167.20" y2="485.10" stroke="#c4c4c4" stroke-width="0.9" />
<line x1="164.90" y1="473.10" x2="169.50" y2="473.10" stroke="#c4c4c4" stroke-width="0.9" />
<line x1="164.90" y1="485.10" x2="169.50" y2="485.10" stroke="#c4c4c4" stroke-width="0.9" />
<line x1="178.70" y1="482.50" x2="178.70" y2="494.50" stroke="#c4c4c4" stroke-width="0.9" />
<line x1="176.40" y1="482.50" x2="181.00" y2="482.50" stroke="#c4c4c4" stroke-width="0.9" />
<line x1="176.40" y1="494.50" x2="181.00" y2="494.50" stroke="#c4c4c4" stroke-width="0.9" />
<line x1="195.00" y1="477.50" x2="195.00" y2="489.50" stroke="#c4c4c4" stroke-width="0.9" />
<line x1="192.70" y1="477.50" x2="197.30" y2="477.50" stroke="#c4c4c4" stroke-width="0.9" />
<line x1="192.70" y1="489.50" x2="197.30" y2="489.50" stroke="#c4c4c4" stroke-width="0.9" />
<line x1="234.70" y1="482.20" x2="234.70" y2="496.20" stroke="#c4c4c4" stroke-width="0.9" />
<line x1="232.40" y1="482.20" x2="237.00" y2="482.20" stroke="#c4c4c4" stroke-width="0.9" />
<line x1="232.40" y1="496.20" x2="237.00" y2="496.20" stroke="#c4c4c4" stroke-width="0.9" />
<polygon points="79.00,586.84 75.00,593.44 83.00,593.44" fill="#c2c2c2" stroke="#2a2a2a" stroke-width="1.1" stroke-linejoin="miter"/>
<polygon points="86.00,551.44 82.00,558.04 90.00,558.04" fill="#c2c2c2" stroke="#2a2a2a" stroke-width="1.1" stroke-linejoin="miter"/>
<polygon points="91.40,536.74 87.40,543.34 95.40,543.34" fill="#c2c2c2" stroke="#2a2a2a" stroke-width="1.1" stroke-linejoin="miter"/>
<polygon points="96.10,525.24 92.10,531.84 100.10,531.84" fill="#c2c2c2" stroke="#2a2a2a" stroke-width="1.1" stroke-linejoin="miter"/>
<polygon points="100.80,514.34 96.80,520.94 104.80,520.94" fill="#c2c2c2" stroke="#2a2a2a" stroke-width="1.1" stroke-linejoin="miter"/>
<polygon points="105.50,501.74 101.50,508.34 109.50,508.34" fill="#c2c2c2" stroke="#2a2a2a" stroke-width="1.1" stroke-linejoin="miter"/>
<polygon points="110.10,491.64 106.10,498.24 114.10,498.24" fill="#c2c2c2" stroke="#2a2a2a" stroke-width="1.1" stroke-linejoin="miter"/>
<polygon points="114.60,480.44 110.60,487.04 118.60,487.04" fill="#c2c2c2" stroke="#2a2a2a" stroke-width="1.1" stroke-linejoin="miter"/>
<polygon points="119.80,479.44 115.80,486.04 123.80,486.04" fill="#c2c2c2" stroke="#2a2a2a" stroke-width="1.1" stroke-linejoin="miter"/>
<polygon points="124.50,479.44 120.50,486.04 128.50,486.04" fill="#c2c2c2" stroke="#2a2a2a" stroke-width="1.1" stroke-linejoin="miter"/>
<polygon points="129.80,475.24 125.80,481.84 133.80,481.84" fill="#c2c2c2" stroke="#2a2a2a" stroke-width="1.1" stroke-linejoin="miter"/>
<polygon points="135.00,467.94 131.00,474.54 139.00,474.54" fill="#c2c2c2" stroke="#2a2a2a" stroke-width="1.1" stroke-linejoin="miter"/>
<polygon points="140.70,459.54 136.70,466.14 144.70,466.14" fill="#c2c2c2" stroke="#2a2a2a" stroke-width="1.1" stroke-linejoin="miter"/>
<polygon points="147.00,456.94 143.00,463.54 151.00,463.54" fill="#c2c2c2" stroke="#2a2a2a" stroke-width="1.1" stroke-linejoin="miter"/>
<polygon points="153.80,458.24 149.80,464.84 157.80,464.84" fill="#c2c2c2" stroke="#2a2a2a" stroke-width="1.1" stroke-linejoin="miter"/>
<polygon points="162.20,450.24 158.20,456.84 166.20,456.84" fill="#c2c2c2" stroke="#2a2a2a" stroke-width="1.1" stroke-linejoin="miter"/>
<polygon points="172.00,441.34 168.00,447.94 176.00,447.94" fill="#c2c2c2" stroke="#2a2a2a" stroke-width="1.1" stroke-linejoin="miter"/>
<polygon points="184.30,434.74 180.30,441.34 188.30,441.34" fill="#c2c2c2" stroke="#2a2a2a" stroke-width="1.1" stroke-linejoin="miter"/>
<polygon points="202.80,413.74 198.80,420.34 206.80,420.34" fill="#c2c2c2" stroke="#2a2a2a" stroke-width="1.1" stroke-linejoin="miter"/>
<polygon points="246.50,376.84 242.50,383.44 250.50,383.44" fill="#c2c2c2" stroke="#2a2a2a" stroke-width="1.1" stroke-linejoin="miter"/>
<circle cx="83.50" cy="539.70" r="4.2" fill="#141414" stroke="none" stroke-width="0"/>
<circle cx="91.40" cy="511.50" r="4.2" fill="#141414" stroke="none" stroke-width="0"/>
<circle cx="96.80" cy="498.50" r="4.2" fill="#141414" stroke="none" stroke-width="0"/>
<circle cx="101.00" cy="486.50" r="4.2" fill="#141414" stroke="none" stroke-width="0"/>
<circle cx="104.60" cy="476.60" r="4.2" fill="#141414" stroke="none" stroke-width="0"/>
<circle cx="108.80" cy="477.60" r="4.2" fill="#141414" stroke="none" stroke-width="0"/>
<circle cx="113.50" cy="472.40" r="4.2" fill="#141414" stroke="none" stroke-width="0"/>
<circle cx="118.80" cy="476.00" r="4.2" fill="#141414" stroke="none" stroke-width="0"/>
<circle cx="121.40" cy="475.50" r="4.2" fill="#141414" stroke="none" stroke-width="0"/>
<circle cx="126.10" cy="466.60" r="4.2" fill="#141414" stroke="none" stroke-width="0"/>
<circle cx="131.30" cy="468.70" r="4.2" fill="#141414" stroke="none" stroke-width="0"/>
<circle cx="139.20" cy="472.40" r="4.2" fill="#141414" stroke="none" stroke-width="0"/>
<circle cx="144.90" cy="480.20" r="4.2" fill="#141414" stroke="none" stroke-width="0"/>
<circle cx="151.50" cy="475.30" r="4.2" fill="#141414" stroke="none" stroke-width="0"/>
<circle cx="158.40" cy="481.80" r="4.2" fill="#141414" stroke="none" stroke-width="0"/>
<circle cx="167.20" cy="479.10" r="4.2" fill="#141414" stroke="none" stroke-width="0"/>
<circle cx="178.70" cy="488.50" r="4.2" fill="#141414" stroke="none" stroke-width="0"/>
<circle cx="195.00" cy="483.50" r="4.2" fill="#141414" stroke="none" stroke-width="0"/>
<circle cx="234.70" cy="489.20" r="4.2" fill="#141414" stroke="none" stroke-width="0"/>
<line x1="63.20" y1="598.50" x2="190.10" y2="349.20" stroke="#8e8e8e" stroke-width="1.7" />
<line x1="63.20" y1="541.30" x2="226.10" y2="349.20" stroke="#151515" stroke-width="1.9" />
<line x1="63.20" y1="532.50" x2="278.80" y2="357.90" stroke="#8e8e8e" stroke-width="1.7" />
<line x1="63.20" y1="465.50" x2="278.40" y2="496.50" stroke="#151515" stroke-width="1.9" />
<text x="67.10" y="374.50" font-family='"Liberation Sans", sans-serif' font-size="9.1" fill="#222" text-anchor="start" font-weight="bold" font-style="normal" >SWA &lt; 100 %</text>
<text x="67.10" y="384.60" font-family='"Liberation Sans", sans-serif' font-size="9.1" fill="#3a3a3a" text-anchor="start" font-weight="normal" font-style="normal" >WT: r=0.86, p&lt;0.001</text>
<text x="67.10" y="394.50" font-family='"Liberation Sans", sans-serif' font-size="9.1" fill="#3a3a3a" text-anchor="start" font-weight="normal" font-style="normal" ><tspan font-style="italic">Gria1-/-</tspan> : r=0.95, p&lt;0.001</text>
<text x="183.90" y="524.10" font-family='"Liberation Sans", sans-serif' font-size="9.1" fill="#222" text-anchor="start" font-weight="bold" font-style="normal" >SWA &gt; 100 %</text>
<text x="183.90" y="534.20" font-family='"Liberation Sans", sans-serif' font-size="9.1" fill="#3a3a3a" text-anchor="start" font-weight="normal" font-style="normal" >WT: r=-0.79, p&lt;0.05</text>
<text x="183.90" y="544.50" font-family='"Liberation Sans", sans-serif' font-size="9.1" fill="#3a3a3a" text-anchor="start" font-weight="normal" font-style="normal" ><tspan font-style="italic">Gria1-/-</tspan> : r=0.99, p&lt;0.001</text>
<circle cx="186.50" cy="593.20" r="4.4" fill="#141414" stroke="none" stroke-width="0"/>
<polygon points="186.70,604.52 182.40,611.32 191.00,611.32" fill="#c2c2c2" stroke="#2a2a2a" stroke-width="1.1" stroke-linejoin="miter"/>
<text x="212.00" y="597.70" font-family='"Liberation Sans", sans-serif' font-size="14.8" fill="#262626" text-anchor="start" font-weight="normal" font-style="normal" >WT</text>
<text x="213.20" y="614.80" font-family='"Liberation Sans", sans-serif' font-size="14.3" fill="#262626" text-anchor="start" font-weight="normal" font-style="italic" >Gria1</text>
<text x="248.60" y="607.20" font-family='"Liberation Sans", sans-serif' font-size="9" fill="#262626" text-anchor="start" font-weight="normal" font-style="italic" >-/-</text>
<text transform="translate(4.6,13.9) scale(0.88,1)" font-family='"Liberation Serif", serif' font-size="20.8" fill="#111" font-weight="bold">a</text>
<text transform="translate(11.5,308.3) rotate(-90)" font-family='"Liberation Sans", sans-serif' font-size="14.95" fill="#262626" text-anchor="middle">Spindle frequency activity (%)</text>
<text x="176.90" y="665.30" font-family='"Liberation Sans", sans-serif' font-size="14.9" fill="#262626" text-anchor="middle" font-weight="normal" font-style="normal" >Slow wave activity (%)</text>
<line x1="461.95" y1="28.00" x2="461.95" y2="300.80" stroke="#dedede" stroke-width="0.8" stroke-dasharray="1 3.5"/>
<line x1="520.50" y1="28.00" x2="520.50" y2="300.80" stroke="#dedede" stroke-width="0.8" stroke-dasharray="1 3.5"/>
<line x1="579.05" y1="28.00" x2="579.05" y2="300.80" stroke="#dedede" stroke-width="0.8" stroke-dasharray="1 3.5"/>
<line x1="637.60" y1="28.00" x2="637.60" y2="300.80" stroke="#dedede" stroke-width="0.8" stroke-dasharray="1 3.5"/>
<line x1="403.40" y1="27.30" x2="403.40" y2="300.80" stroke="#2a2a2a" stroke-width="1.1" />
<line x1="399.90" y1="301.10" x2="638.10" y2="301.10" stroke="#686868" stroke-width="1.4" />
<line x1="399.90" y1="300.80" x2="403.40" y2="300.80" stroke="#333" stroke-width="1.0" />
<text transform="translate(392.80,306.00) scale(0.91,1)" font-family='"Liberation Sans", sans-serif' font-size="14.3" fill="#262626" text-anchor="end" font-weight="normal" font-style="normal" >0</text>
<line x1="399.90" y1="247.70" x2="403.40" y2="247.70" stroke="#333" stroke-width="1.0" />
<text transform="translate(392.80,252.90) scale(0.91,1)" font-family='"Liberation Sans", sans-serif' font-size="14.3" fill="#262626" text-anchor="end" font-weight="normal" font-style="normal" >20</text>
<line x1="399.90" y1="194.60" x2="403.40" y2="194.60" stroke="#333" stroke-width="1.0" />
<text transform="translate(392.80,199.80) scale(0.91,1)" font-family='"Liberation Sans", sans-serif' font-size="14.3" fill="#262626" text-anchor="end" font-weight="normal" font-style="normal" >40</text>
<line x1="399.90" y1="141.50" x2="403.40" y2="141.50" stroke="#333" stroke-width="1.0" />
<text transform="translate(392.80,146.70) scale(0.91,1)" font-family='"Liberation Sans", sans-serif' font-size="14.3" fill="#262626" text-anchor="end" font-weight="normal" font-style="normal" >60</text>
<line x1="399.90" y1="88.40" x2="403.40" y2="88.40" stroke="#333" stroke-width="1.0" />
<text transform="translate(392.80,93.60) scale(0.91,1)" font-family='"Liberation Sans", sans-serif' font-size="14.3" fill="#262626" text-anchor="end" font-weight="normal" font-style="normal" >80</text>
<line x1="399.90" y1="35.30" x2="403.40" y2="35.30" stroke="#333" stroke-width="1.0" />
<text transform="translate(392.80,40.50) scale(0.91,1)" font-family='"Liberation Sans", sans-serif' font-size="14.3" fill="#262626" text-anchor="end" font-weight="normal" font-style="normal" >100</text>
<line x1="403.40" y1="300.80" x2="403.40" y2="303.80" stroke="#333" stroke-width="1.0" />
<text transform="translate(403.40,322.50) scale(0.92,1)" font-family='"Liberation Sans", sans-serif' font-size="14.0" fill="#262626" text-anchor="middle" font-weight="normal" font-style="normal" >0</text>
<line x1="461.95" y1="300.80" x2="461.95" y2="303.80" stroke="#333" stroke-width="1.0" />
<text transform="translate(461.95,322.50) scale(0.92,1)" font-family='"Liberation Sans", sans-serif' font-size="14.0" fill="#262626" text-anchor="middle" font-weight="normal" font-style="normal" >1</text>
<line x1="520.50" y1="300.80" x2="520.50" y2="303.80" stroke="#333" stroke-width="1.0" />
<text transform="translate(520.50,322.50) scale(0.92,1)" font-family='"Liberation Sans", sans-serif' font-size="14.0" fill="#262626" text-anchor="middle" font-weight="normal" font-style="normal" >2</text>
<line x1="579.05" y1="300.80" x2="579.05" y2="303.80" stroke="#333" stroke-width="1.0" />
<text transform="translate(579.05,322.50) scale(0.92,1)" font-family='"Liberation Sans", sans-serif' font-size="14.0" fill="#262626" text-anchor="middle" font-weight="normal" font-style="normal" >3</text>
<line x1="637.60" y1="300.80" x2="637.60" y2="303.80" stroke="#333" stroke-width="1.0" />
<text transform="translate(637.60,322.50) scale(0.92,1)" font-family='"Liberation Sans", sans-serif' font-size="14.0" fill="#262626" text-anchor="middle" font-weight="normal" font-style="normal" >4</text>
<text x="524.50" y="337.90" font-family='"Liberation Sans", sans-serif' font-size="13.6" fill="#262626" text-anchor="middle" font-weight="normal" font-style="normal" >REMS Episode Duration (min)</text>
<text transform="translate(363.6,164.8) rotate(-90)" font-family='"Liberation Sans", sans-serif' font-size="13.5" fill="#262626" text-anchor="middle">Number of REM sleep episodes (% of total)</text>
<line x1="421.56" y1="72.60" x2="421.56" y2="82.10" stroke="#c0c0c0" stroke-width="1.0" />
<line x1="427.42" y1="118.00" x2="427.42" y2="127.50" stroke="#c0c0c0" stroke-width="1.0" />
<line x1="433.27" y1="130.00" x2="433.27" y2="139.50" stroke="#c0c0c0" stroke-width="1.0" />
<line x1="439.13" y1="151.60" x2="439.13" y2="161.10" stroke="#c0c0c0" stroke-width="1.0" />
<line x1="444.99" y1="161.90" x2="444.99" y2="171.40" stroke="#c0c0c0" stroke-width="1.0" />
<line x1="450.84" y1="173.50" x2="450.84" y2="183.00" stroke="#c0c0c0" stroke-width="1.0" />
<line x1="456.69" y1="181.00" x2="456.69" y2="190.50" stroke="#c0c0c0" stroke-width="1.0" />
<line x1="462.55" y1="189.60" x2="462.55" y2="199.10" stroke="#c0c0c0" stroke-width="1.0" />
<line x1="468.40" y1="192.20" x2="468.40" y2="201.70" stroke="#c0c0c0" stroke-width="1.0" />
<line x1="474.26" y1="199.20" x2="474.26" y2="208.70" stroke="#c0c0c0" stroke-width="1.0" />
<line x1="480.12" y1="201.30" x2="480.12" y2="210.80" stroke="#c0c0c0" stroke-width="1.0" />
<line x1="485.97" y1="204.90" x2="485.97" y2="214.40" stroke="#c0c0c0" stroke-width="1.0" />
<line x1="491.82" y1="209.30" x2="491.82" y2="218.80" stroke="#c0c0c0" stroke-width="1.0" />
<line x1="497.68" y1="216.90" x2="497.68" y2="226.40" stroke="#c0c0c0" stroke-width="1.0" />
<line x1="503.54" y1="220.50" x2="503.54" y2="230.00" stroke="#c0c0c0" stroke-width="1.0" />
<line x1="509.39" y1="224.90" x2="509.39" y2="234.40" stroke="#c0c0c0" stroke-width="1.0" />
<line x1="515.25" y1="230.10" x2="515.25" y2="239.60" stroke="#c0c0c0" stroke-width="1.0" />
<line x1="420.76" y1="96.50" x2="420.76" y2="105.00" stroke="#2a2a2a" stroke-width="1.0" />
<line x1="426.62" y1="137.80" x2="426.62" y2="146.30" stroke="#2a2a2a" stroke-width="1.0" />
<line x1="432.47" y1="154.40" x2="432.47" y2="162.90" stroke="#2a2a2a" stroke-width="1.0" />
<line x1="438.33" y1="174.90" x2="438.33" y2="183.40" stroke="#2a2a2a" stroke-width="1.0" />
<line x1="444.19" y1="185.60" x2="444.19" y2="194.10" stroke="#2a2a2a" stroke-width="1.0" />
<line x1="450.04" y1="198.00" x2="450.04" y2="206.50" stroke="#2a2a2a" stroke-width="1.0" />
<line x1="455.89" y1="201.30" x2="455.89" y2="209.80" stroke="#2a2a2a" stroke-width="1.0" />
<line x1="461.75" y1="209.90" x2="461.75" y2="218.40" stroke="#2a2a2a" stroke-width="1.0" />
<line x1="467.60" y1="215.30" x2="467.60" y2="223.80" stroke="#2a2a2a" stroke-width="1.0" />
<line x1="473.46" y1="220.60" x2="473.46" y2="229.10" stroke="#2a2a2a" stroke-width="1.0" />
<line x1="479.31" y1="225.50" x2="479.31" y2="234.00" stroke="#2a2a2a" stroke-width="1.0" />
<line x1="485.17" y1="233.30" x2="485.17" y2="241.80" stroke="#2a2a2a" stroke-width="1.0" />
<line x1="491.02" y1="238.70" x2="491.02" y2="247.20" stroke="#2a2a2a" stroke-width="1.0" />
<line x1="496.88" y1="245.00" x2="496.88" y2="253.50" stroke="#2a2a2a" stroke-width="1.0" />
<line x1="502.74" y1="248.80" x2="502.74" y2="257.30" stroke="#2a2a2a" stroke-width="1.0" />
<polyline points="404.00,35.30 409.86,35.30 415.71,62.90 421.56,82.10 427.42,127.50 433.27,139.50 439.13,161.10 444.99,171.40 450.84,183.00 456.69,190.50 462.55,199.10 468.40,201.70 474.26,208.70 480.12,210.80 485.97,214.40 491.82,218.80 497.68,226.40 503.54,230.00 509.39,234.40 515.25,239.60 521.10,246.40 526.96,252.20 532.81,258.60 538.67,260.70 544.52,269.70 550.38,271.20 556.23,276.70 562.09,278.20 567.94,282.50 573.79,284.30 579.65,288.40 585.50,290.30 591.36,291.90 597.22,293.80 603.07,295.80 608.92,296.20 614.78,298.20 620.63,298.70 626.49,299.10 632.35,299.70 638.20,299.70" fill="none" stroke="#cbcbcb" stroke-width="4.0" stroke-linejoin="round" />
<polyline points="403.40,35.30 409.25,35.30 415.11,70.10 420.96,96.50 426.82,137.80 432.67,154.40 438.53,174.90 444.38,185.60 450.24,198.00 456.09,201.30 461.95,209.90 467.80,215.30 473.66,220.60 479.51,225.50 485.37,233.30 491.22,238.70 497.08,245.00 502.94,248.80 508.79,258.00 514.64,262.80 520.50,267.60 526.36,271.00 532.21,274.20 538.07,278.00 543.92,281.00 549.77,283.20 555.63,285.20 561.49,288.00 567.34,291.00 573.19,292.70 579.05,294.50 584.90,295.50 590.76,296.80 596.62,297.50 602.47,298.20 608.32,298.60 614.18,299.00 620.03,299.20 625.89,299.30 631.75,299.40 637.60,299.50" fill="none" stroke="#151515" stroke-width="1.7" stroke-linejoin="round" />
<circle cx="403.40" cy="35.30" r="4.4" fill="#141414" stroke="none" stroke-width="0"/>
<circle cx="409.25" cy="35.30" r="4.4" fill="#141414" stroke="none" stroke-width="0"/>
<circle cx="415.11" cy="70.10" r="4.4" fill="#141414" stroke="none" stroke-width="0"/>
<circle cx="420.96" cy="96.50" r="4.4" fill="#141414" stroke="none" stroke-width="0"/>
<circle cx="426.82" cy="137.80" r="4.4" fill="#141414" stroke="none" stroke-width="0"/>
<circle cx="432.67" cy="154.40" r="4.4" fill="#141414" stroke="none" stroke-width="0"/>
<circle cx="438.53" cy="174.90" r="4.4" fill="#141414" stroke="none" stroke-width="0"/>
<circle cx="444.38" cy="185.60" r="4.4" fill="#141414" stroke="none" stroke-width="0"/>
<circle cx="450.24" cy="198.00" r="4.4" fill="#141414" stroke="none" stroke-width="0"/>
<circle cx="456.09" cy="201.30" r="4.4" fill="#141414" stroke="none" stroke-width="0"/>
<circle cx="461.95" cy="209.90" r="4.4" fill="#141414" stroke="none" stroke-width="0"/>
<circle cx="467.80" cy="215.30" r="4.4" fill="#141414" stroke="none" stroke-width="0"/>
<circle cx="473.66" cy="220.60" r="4.4" fill="#141414" stroke="none" stroke-width="0"/>
<circle cx="479.51" cy="225.50" r="4.4" fill="#141414" stroke="none" stroke-width="0"/>
<circle cx="485.37" cy="233.30" r="4.4" fill="#141414" stroke="none" stroke-width="0"/>
<circle cx="491.22" cy="238.70" r="4.4" fill="#141414" stroke="none" stroke-width="0"/>
<circle cx="497.08" cy="245.00" r="4.4" fill="#141414" stroke="none" stroke-width="0"/>
<circle cx="502.94" cy="248.80" r="4.4" fill="#141414" stroke="none" stroke-width="0"/>
<circle cx="508.79" cy="258.00" r="4.4" fill="#141414" stroke="none" stroke-width="0"/>
<circle cx="514.64" cy="262.80" r="4.4" fill="#141414" stroke="none" stroke-width="0"/>
<circle cx="520.50" cy="267.60" r="4.4" fill="#141414" stroke="none" stroke-width="0"/>
<circle cx="526.36" cy="271.00" r="4.4" fill="#141414" stroke="none" stroke-width="0"/>
<circle cx="532.21" cy="274.20" r="4.4" fill="#141414" stroke="none" stroke-width="0"/>
<circle cx="538.07" cy="278.00" r="4.4" fill="#141414" stroke="none" stroke-width="0"/>
<circle cx="543.92" cy="281.00" r="4.4" fill="#141414" stroke="none" stroke-width="0"/>
<circle cx="549.77" cy="283.20" r="4.4" fill="#141414" stroke="none" stroke-width="0"/>
<circle cx="555.63" cy="285.20" r="4.4" fill="#141414" stroke="none" stroke-width="0"/>
<circle cx="561.49" cy="288.00" r="4.4" fill="#141414" stroke="none" stroke-width="0"/>
<circle cx="567.34" cy="291.00" r="4.4" fill="#141414" stroke="none" stroke-width="0"/>
<circle cx="573.19" cy="292.70" r="4.4" fill="#141414" stroke="none" stroke-width="0"/>
<circle cx="579.05" cy="294.50" r="4.4" fill="#141414" stroke="none" stroke-width="0"/>
<circle cx="584.90" cy="295.50" r="4.4" fill="#141414" stroke="none" stroke-width="0"/>
<circle cx="590.76" cy="296.80" r="4.4" fill="#141414" stroke="none" stroke-width="0"/>
<circle cx="596.62" cy="297.50" r="4.4" fill="#141414" stroke="none" stroke-width="0"/>
<circle cx="602.47" cy="298.20" r="4.4" fill="#141414" stroke="none" stroke-width="0"/>
<circle cx="608.32" cy="298.60" r="4.4" fill="#141414" stroke="none" stroke-width="0"/>
<circle cx="614.18" cy="299.00" r="4.4" fill="#141414" stroke="none" stroke-width="0"/>
<circle cx="620.03" cy="299.20" r="4.4" fill="#141414" stroke="none" stroke-width="0"/>
<circle cx="625.89" cy="299.30" r="4.4" fill="#141414" stroke="none" stroke-width="0"/>
<circle cx="631.75" cy="299.40" r="4.4" fill="#141414" stroke="none" stroke-width="0"/>
<circle cx="637.60" cy="299.50" r="4.4" fill="#141414" stroke="none" stroke-width="0"/>
<polygon points="403.40,39.20 399.30,32.70 407.50,32.70" fill="#c6c6c6" stroke="#262626" stroke-width="1.05" stroke-linejoin="miter"/>
<polygon points="409.25,39.20 405.15,32.70 413.36,32.70" fill="#c6c6c6" stroke="#262626" stroke-width="1.05" stroke-linejoin="miter"/>
<polygon points="415.11,66.80 411.01,60.30 419.21,60.30" fill="#c6c6c6" stroke="#262626" stroke-width="1.05" stroke-linejoin="miter"/>
<polygon points="420.96,86.00 416.86,79.50 425.06,79.50" fill="#c6c6c6" stroke="#262626" stroke-width="1.05" stroke-linejoin="miter"/>
<polygon points="426.82,131.40 422.72,124.90 430.92,124.90" fill="#c6c6c6" stroke="#262626" stroke-width="1.05" stroke-linejoin="miter"/>
<polygon points="432.67,143.40 428.57,136.90 436.77,136.90" fill="#c6c6c6" stroke="#262626" stroke-width="1.05" stroke-linejoin="miter"/>
<polygon points="438.53,165.00 434.43,158.50 442.63,158.50" fill="#c6c6c6" stroke="#262626" stroke-width="1.05" stroke-linejoin="miter"/>
<polygon points="444.38,175.30 440.28,168.80 448.49,168.80" fill="#c6c6c6" stroke="#262626" stroke-width="1.05" stroke-linejoin="miter"/>
<polygon points="450.24,186.90 446.14,180.40 454.34,180.40" fill="#c6c6c6" stroke="#262626" stroke-width="1.05" stroke-linejoin="miter"/>
<polygon points="456.09,194.40 451.99,187.90 460.19,187.90" fill="#c6c6c6" stroke="#262626" stroke-width="1.05" stroke-linejoin="miter"/>
<polygon points="461.95,203.00 457.85,196.50 466.05,196.50" fill="#c6c6c6" stroke="#262626" stroke-width="1.05" stroke-linejoin="miter"/>
<polygon points="467.80,205.60 463.70,199.10 471.90,199.10" fill="#c6c6c6" stroke="#262626" stroke-width="1.05" stroke-linejoin="miter"/>
<polygon points="473.66,212.60 469.56,206.10 477.76,206.10" fill="#c6c6c6" stroke="#262626" stroke-width="1.05" stroke-linejoin="miter"/>
<polygon points="479.51,214.70 475.41,208.20 483.62,208.20" fill="#c6c6c6" stroke="#262626" stroke-width="1.05" stroke-linejoin="miter"/>
<polygon points="485.37,218.30 481.27,211.80 489.47,211.80" fill="#c6c6c6" stroke="#262626" stroke-width="1.05" stroke-linejoin="miter"/>
<polygon points="491.22,222.70 487.12,216.20 495.32,216.20" fill="#c6c6c6" stroke="#262626" stroke-width="1.05" stroke-linejoin="miter"/>
<polygon points="497.08,230.30 492.98,223.80 501.18,223.80" fill="#c6c6c6" stroke="#262626" stroke-width="1.05" stroke-linejoin="miter"/>
<polygon points="502.94,233.90 498.83,227.40 507.04,227.40" fill="#c6c6c6" stroke="#262626" stroke-width="1.05" stroke-linejoin="miter"/>
<polygon points="508.79,238.30 504.69,231.80 512.89,231.80" fill="#c6c6c6" stroke="#262626" stroke-width="1.05" stroke-linejoin="miter"/>
<polygon points="514.64,243.50 510.54,237.00 518.75,237.00" fill="#c6c6c6" stroke="#262626" stroke-width="1.05" stroke-linejoin="miter"/>
<polygon points="520.50,250.30 516.40,243.80 524.60,243.80" fill="#c6c6c6" stroke="#262626" stroke-width="1.05" stroke-linejoin="miter"/>
<polygon points="526.36,256.10 522.25,249.60 530.46,249.60" fill="#c6c6c6" stroke="#262626" stroke-width="1.05" stroke-linejoin="miter"/>
<polygon points="532.21,262.50 528.11,256.00 536.31,256.00" fill="#c6c6c6" stroke="#262626" stroke-width="1.05" stroke-linejoin="miter"/>
<polygon points="538.07,264.60 533.97,258.10 542.17,258.10" fill="#c6c6c6" stroke="#262626" stroke-width="1.05" stroke-linejoin="miter"/>
<polygon points="543.92,273.60 539.82,267.10 548.02,267.10" fill="#c6c6c6" stroke="#262626" stroke-width="1.05" stroke-linejoin="miter"/>
<polygon points="549.77,275.10 545.67,268.60 553.88,268.60" fill="#c6c6c6" stroke="#262626" stroke-width="1.05" stroke-linejoin="miter"/>
<polygon points="555.63,280.60 551.53,274.10 559.73,274.10" fill="#c6c6c6" stroke="#262626" stroke-width="1.05" stroke-linejoin="miter"/>
<polygon points="561.49,282.10 557.38,275.60 565.59,275.60" fill="#c6c6c6" stroke="#262626" stroke-width="1.05" stroke-linejoin="miter"/>
<polygon points="567.34,286.40 563.24,279.90 571.44,279.90" fill="#c6c6c6" stroke="#262626" stroke-width="1.05" stroke-linejoin="miter"/>
<polygon points="573.19,288.20 569.09,281.70 577.29,281.70" fill="#c6c6c6" stroke="#262626" stroke-width="1.05" stroke-linejoin="miter"/>
<polygon points="579.05,292.30 574.95,285.80 583.15,285.80" fill="#c6c6c6" stroke="#262626" stroke-width="1.05" stroke-linejoin="miter"/>
<polygon points="584.90,294.20 580.80,287.70 589.00,287.70" fill="#c6c6c6" stroke="#262626" stroke-width="1.05" stroke-linejoin="miter"/>
<polygon points="590.76,295.80 586.66,289.30 594.86,289.30" fill="#c6c6c6" stroke="#262626" stroke-width="1.05" stroke-linejoin="miter"/>
<polygon points="596.62,297.70 592.51,291.20 600.72,291.20" fill="#c6c6c6" stroke="#262626" stroke-width="1.05" stroke-linejoin="miter"/>
<polygon points="602.47,299.70 598.37,293.20 606.57,293.20" fill="#c6c6c6" stroke="#262626" stroke-width="1.05" stroke-linejoin="miter"/>
<polygon points="608.32,300.10 604.22,293.60 612.42,293.60" fill="#c6c6c6" stroke="#262626" stroke-width="1.05" stroke-linejoin="miter"/>
<polygon points="614.18,302.10 610.08,295.60 618.28,295.60" fill="#c6c6c6" stroke="#262626" stroke-width="1.05" stroke-linejoin="miter"/>
<polygon points="620.03,302.60 615.93,296.10 624.13,296.10" fill="#c6c6c6" stroke="#262626" stroke-width="1.05" stroke-linejoin="miter"/>
<polygon points="625.89,303.00 621.79,296.50 629.99,296.50" fill="#c6c6c6" stroke="#262626" stroke-width="1.05" stroke-linejoin="miter"/>
<polygon points="631.75,303.60 627.64,297.10 635.85,297.10" fill="#c6c6c6" stroke="#262626" stroke-width="1.05" stroke-linejoin="miter"/>
<polygon points="637.60,303.60 633.50,297.10 641.70,297.10" fill="#c6c6c6" stroke="#262626" stroke-width="1.05" stroke-linejoin="miter"/>
<polygon points="485.37,34.96 482.12,28.36 488.62,28.36" fill="#111" stroke="none" stroke-width="0" stroke-linejoin="miter"/>
<polygon points="491.22,34.96 487.97,28.36 494.47,28.36" fill="#111" stroke="none" stroke-width="0" stroke-linejoin="miter"/>
<polygon points="497.08,34.96 493.83,28.36 500.33,28.36" fill="#111" stroke="none" stroke-width="0" stroke-linejoin="miter"/>
<polygon points="502.94,34.96 499.69,28.36 506.19,28.36" fill="#111" stroke="none" stroke-width="0" stroke-linejoin="miter"/>
<polygon points="508.79,34.96 505.54,28.36 512.04,28.36" fill="#111" stroke="none" stroke-width="0" stroke-linejoin="miter"/>
<polygon points="514.64,34.96 511.39,28.36 517.89,28.36" fill="#111" stroke="none" stroke-width="0" stroke-linejoin="miter"/>
<polygon points="520.50,34.96 517.25,28.36 523.75,28.36" fill="#111" stroke="none" stroke-width="0" stroke-linejoin="miter"/>
<polygon points="526.36,34.96 523.11,28.36 529.61,28.36" fill="#111" stroke="none" stroke-width="0" stroke-linejoin="miter"/>
<polygon points="532.21,34.96 528.96,28.36 535.46,28.36" fill="#111" stroke="none" stroke-width="0" stroke-linejoin="miter"/>
<polygon points="538.07,34.96 534.82,28.36 541.32,28.36" fill="#111" stroke="none" stroke-width="0" stroke-linejoin="miter"/>
<polygon points="543.92,34.96 540.67,28.36 547.17,28.36" fill="#111" stroke="none" stroke-width="0" stroke-linejoin="miter"/>
<polygon points="549.77,34.96 546.52,28.36 553.02,28.36" fill="#111" stroke="none" stroke-width="0" stroke-linejoin="miter"/>
<polygon points="555.63,34.96 552.38,28.36 558.88,28.36" fill="#111" stroke="none" stroke-width="0" stroke-linejoin="miter"/>
<polygon points="561.49,34.96 558.24,28.36 564.74,28.36" fill="#111" stroke="none" stroke-width="0" stroke-linejoin="miter"/>
<polygon points="567.34,34.96 564.09,28.36 570.59,28.36" fill="#111" stroke="none" stroke-width="0" stroke-linejoin="miter"/>
<polygon points="573.19,34.96 569.94,28.36 576.44,28.36" fill="#111" stroke="none" stroke-width="0" stroke-linejoin="miter"/>
<line x1="412.20" y1="257.30" x2="443.00" y2="257.30" stroke="#151515" stroke-width="2.9" />
<circle cx="427.40" cy="257.30" r="4.3" fill="#141414" stroke="none" stroke-width="0"/>
<line x1="412.20" y1="276.20" x2="443.00" y2="276.20" stroke="#cbcbcb" stroke-width="3.3" />
<polygon points="427.40,281.00 423.30,274.00 431.50,274.00" fill="#c6c6c6" stroke="#262626" stroke-width="1.1" stroke-linejoin="miter"/>
<text x="450.80" y="262.00" font-family='"Liberation Sans", sans-serif' font-size="13.5" fill="#262626" text-anchor="start" font-weight="normal" font-style="normal" >WT</text>
<text x="450.80" y="280.30" font-family='"Liberation Sans", sans-serif' font-size="13.5" fill="#262626" text-anchor="start" font-weight="normal" font-style="italic" >Gria1-/-</text>
<text transform="translate(353.6,14.1) scale(0.95,1)" font-family='"Liberation Serif", serif' font-size="20.8" fill="#111" font-weight="bold">b</text>
<line x1="381.35" y1="381.61" x2="381.35" y2="619.10" stroke="#e2e2e2" stroke-width="0.8" stroke-dasharray="1 3.5"/>
<line x1="406.40" y1="381.61" x2="406.40" y2="619.10" stroke="#e2e2e2" stroke-width="0.8" stroke-dasharray="1 3.5"/>
<line x1="431.45" y1="381.61" x2="431.45" y2="619.10" stroke="#e2e2e2" stroke-width="0.8" stroke-dasharray="1 3.5"/>
<line x1="456.50" y1="381.61" x2="456.50" y2="619.10" stroke="#e2e2e2" stroke-width="0.8" stroke-dasharray="1 3.5"/>
<line x1="481.55" y1="381.61" x2="481.55" y2="619.10" stroke="#e2e2e2" stroke-width="0.8" stroke-dasharray="1 3.5"/>
<line x1="506.60" y1="381.61" x2="506.60" y2="619.10" stroke="#e2e2e2" stroke-width="0.8" stroke-dasharray="1 3.5"/>
<line x1="356.30" y1="381.61" x2="356.30" y2="619.10" stroke="#2a2a2a" stroke-width="1.2" />
<line x1="353.30" y1="619.10" x2="507.10" y2="619.10" stroke="#505050" stroke-width="1.4" />
<line x1="353.10" y1="619.10" x2="356.30" y2="619.10" stroke="#333" stroke-width="1.0" />
<text transform="translate(347.20,624.60) scale(0.89,1)" font-family='"Liberation Sans", sans-serif' font-size="14.8" fill="#262626" text-anchor="end" font-weight="normal" font-style="normal" >50</text>
<line x1="353.10" y1="539.94" x2="356.30" y2="539.94" stroke="#333" stroke-width="1.0" />
<text transform="translate(347.20,545.44) scale(0.89,1)" font-family='"Liberation Sans", sans-serif' font-size="14.8" fill="#262626" text-anchor="end" font-weight="normal" font-style="normal" >100</text>
<line x1="353.10" y1="460.77" x2="356.30" y2="460.77" stroke="#333" stroke-width="1.0" />
<text transform="translate(347.20,466.27) scale(0.89,1)" font-family='"Liberation Sans", sans-serif' font-size="14.8" fill="#262626" text-anchor="end" font-weight="normal" font-style="normal" >150</text>
<line x1="353.10" y1="381.61" x2="356.30" y2="381.61" stroke="#333" stroke-width="1.0" />
<text transform="translate(347.20,387.11) scale(0.89,1)" font-family='"Liberation Sans", sans-serif' font-size="14.8" fill="#262626" text-anchor="end" font-weight="normal" font-style="normal" >200</text>
<line x1="356.30" y1="619.10" x2="356.30" y2="621.10" stroke="#333" stroke-width="1.0" />
<text transform="translate(356.30,640.40) scale(0.9,1)" font-family='"Liberation Sans", sans-serif' font-size="14.6" fill="#262626" text-anchor="middle" font-weight="normal" font-style="normal" >0</text>
<line x1="381.35" y1="619.10" x2="381.35" y2="621.10" stroke="#333" stroke-width="1.0" />
<text transform="translate(381.35,640.40) scale(0.9,1)" font-family='"Liberation Sans", sans-serif' font-size="14.6" fill="#262626" text-anchor="middle" font-weight="normal" font-style="normal" >1</text>
<line x1="406.40" y1="619.10" x2="406.40" y2="621.10" stroke="#333" stroke-width="1.0" />
<text transform="translate(406.40,640.40) scale(0.9,1)" font-family='"Liberation Sans", sans-serif' font-size="14.6" fill="#262626" text-anchor="middle" font-weight="normal" font-style="normal" >2</text>
<line x1="431.45" y1="619.10" x2="431.45" y2="621.10" stroke="#333" stroke-width="1.0" />
<text transform="translate(431.45,640.40) scale(0.9,1)" font-family='"Liberation Sans", sans-serif' font-size="14.6" fill="#262626" text-anchor="middle" font-weight="normal" font-style="normal" >3</text>
<line x1="456.50" y1="619.10" x2="456.50" y2="621.10" stroke="#333" stroke-width="1.0" />
<text transform="translate(456.50,640.40) scale(0.9,1)" font-family='"Liberation Sans", sans-serif' font-size="14.6" fill="#262626" text-anchor="middle" font-weight="normal" font-style="normal" >4</text>
<line x1="481.55" y1="619.10" x2="481.55" y2="621.10" stroke="#333" stroke-width="1.0" />
<text transform="translate(481.55,640.40) scale(0.9,1)" font-family='"Liberation Sans", sans-serif' font-size="14.6" fill="#262626" text-anchor="middle" font-weight="normal" font-style="normal" >5</text>
<line x1="506.60" y1="619.10" x2="506.60" y2="621.10" stroke="#333" stroke-width="1.0" />
<text transform="translate(506.60,640.40) scale(0.9,1)" font-family='"Liberation Sans", sans-serif' font-size="14.6" fill="#262626" text-anchor="middle" font-weight="normal" font-style="normal" >6</text>
<line x1="353.30" y1="539.94" x2="507.60" y2="539.94" stroke="#2a2a2a" stroke-width="1.2" />
<text x="366.30" y="380.60" font-family='"Liberation Sans", sans-serif' font-size="13.4" fill="#262626" text-anchor="start" font-weight="normal" font-style="italic" >Frontal</text>
<polyline points="368.82,399.40 393.88,466.70 418.93,511.70 443.98,543.50 469.03,565.80 494.08,553.90" fill="none" stroke="#c4c4c4" stroke-width="3.3" stroke-linejoin="round" />
<polyline points="368.82,398.60 393.88,493.80 418.93,528.20 443.98,542.30 469.03,560.00 494.08,569.10" fill="none" stroke="#151515" stroke-width="3.3" stroke-linejoin="round" />
<line x1="368.82" y1="386.30" x2="368.82" y2="412.40" stroke="#1e1e1e" stroke-width="1.3" />
<line x1="363.52" y1="386.30" x2="374.12" y2="386.30" stroke="#1e1e1e" stroke-width="1.3" />
<line x1="363.52" y1="412.40" x2="374.12" y2="412.40" stroke="#1e1e1e" stroke-width="1.3" />
<line x1="393.88" y1="454.00" x2="393.88" y2="479.40" stroke="#1e1e1e" stroke-width="1.3" />
<line x1="388.57" y1="454.00" x2="399.18" y2="454.00" stroke="#1e1e1e" stroke-width="1.3" />
<line x1="388.57" y1="479.40" x2="399.18" y2="479.40" stroke="#1e1e1e" stroke-width="1.3" />
<line x1="418.93" y1="503.00" x2="418.93" y2="520.80" stroke="#1e1e1e" stroke-width="1.3" />
<line x1="413.62" y1="503.00" x2="424.23" y2="503.00" stroke="#1e1e1e" stroke-width="1.3" />
<line x1="413.62" y1="520.80" x2="424.23" y2="520.80" stroke="#1e1e1e" stroke-width="1.3" />
<line x1="443.98" y1="531.00" x2="443.98" y2="554.90" stroke="#1e1e1e" stroke-width="1.3" />
<line x1="438.68" y1="531.00" x2="449.28" y2="531.00" stroke="#1e1e1e" stroke-width="1.3" />
<line x1="438.68" y1="554.90" x2="449.28" y2="554.90" stroke="#1e1e1e" stroke-width="1.3" />
<line x1="469.03" y1="562.00" x2="469.03" y2="573.40" stroke="#1e1e1e" stroke-width="1.3" />
<line x1="463.73" y1="562.00" x2="474.33" y2="562.00" stroke="#1e1e1e" stroke-width="1.3" />
<line x1="463.73" y1="573.40" x2="474.33" y2="573.40" stroke="#1e1e1e" stroke-width="1.3" />
<line x1="494.08" y1="537.00" x2="494.08" y2="569.60" stroke="#1e1e1e" stroke-width="1.3" />
<line x1="488.78" y1="537.00" x2="499.38" y2="537.00" stroke="#1e1e1e" stroke-width="1.3" />
<line x1="488.78" y1="569.60" x2="499.38" y2="569.60" stroke="#1e1e1e" stroke-width="1.3" />
<line x1="368.82" y1="393.00" x2="368.82" y2="405.00" stroke="#1e1e1e" stroke-width="1.3" />
<line x1="363.52" y1="393.00" x2="374.12" y2="393.00" stroke="#1e1e1e" stroke-width="1.3" />
<line x1="363.52" y1="405.00" x2="374.12" y2="405.00" stroke="#1e1e1e" stroke-width="1.3" />
<line x1="393.88" y1="489.60" x2="393.88" y2="498.00" stroke="#1e1e1e" stroke-width="1.3" />
<line x1="388.57" y1="489.60" x2="399.18" y2="489.60" stroke="#1e1e1e" stroke-width="1.3" />
<line x1="388.57" y1="498.00" x2="399.18" y2="498.00" stroke="#1e1e1e" stroke-width="1.3" />
<line x1="418.93" y1="520.80" x2="418.93" y2="534.50" stroke="#1e1e1e" stroke-width="1.3" />
<line x1="413.62" y1="520.80" x2="424.23" y2="520.80" stroke="#1e1e1e" stroke-width="1.3" />
<line x1="413.62" y1="534.50" x2="424.23" y2="534.50" stroke="#1e1e1e" stroke-width="1.3" />
<line x1="443.98" y1="533.00" x2="443.98" y2="552.00" stroke="#1e1e1e" stroke-width="1.3" />
<line x1="438.68" y1="533.00" x2="449.28" y2="533.00" stroke="#1e1e1e" stroke-width="1.3" />
<line x1="438.68" y1="552.00" x2="449.28" y2="552.00" stroke="#1e1e1e" stroke-width="1.3" />
<line x1="469.03" y1="555.60" x2="469.03" y2="564.50" stroke="#1e1e1e" stroke-width="1.3" />
<line x1="463.73" y1="555.60" x2="474.33" y2="555.60" stroke="#1e1e1e" stroke-width="1.3" />
<line x1="463.73" y1="564.50" x2="474.33" y2="564.50" stroke="#1e1e1e" stroke-width="1.3" />
<line x1="494.08" y1="564.50" x2="494.08" y2="573.50" stroke="#1e1e1e" stroke-width="1.3" />
<line x1="488.78" y1="564.50" x2="499.38" y2="564.50" stroke="#1e1e1e" stroke-width="1.3" />
<line x1="488.78" y1="573.50" x2="499.38" y2="573.50" stroke="#1e1e1e" stroke-width="1.3" />
<ellipse cx="368.82" cy="398.60" rx="4.85" ry="4.6" fill="#141414"/>
<ellipse cx="393.88" cy="493.80" rx="4.85" ry="4.6" fill="#141414"/>
<ellipse cx="418.93" cy="528.20" rx="4.85" ry="4.6" fill="#141414"/>
<ellipse cx="443.98" cy="542.30" rx="4.85" ry="4.6" fill="#141414"/>
<ellipse cx="469.03" cy="560.00" rx="4.85" ry="4.6" fill="#141414"/>
<ellipse cx="494.08" cy="569.10" rx="4.85" ry="4.6" fill="#141414"/>
<ellipse cx="368.82" cy="399.40" rx="4.4" ry="4.0" fill="#fff" stroke="#1e1e1e" stroke-width="1.3"/>
<ellipse cx="393.88" cy="466.70" rx="4.4" ry="4.0" fill="#fff" stroke="#1e1e1e" stroke-width="1.3"/>
<ellipse cx="418.93" cy="511.70" rx="4.4" ry="4.0" fill="#fff" stroke="#1e1e1e" stroke-width="1.3"/>
<ellipse cx="443.98" cy="543.50" rx="4.4" ry="4.0" fill="#fff" stroke="#1e1e1e" stroke-width="1.3"/>
<ellipse cx="469.03" cy="565.80" rx="4.4" ry="4.0" fill="#fff" stroke="#1e1e1e" stroke-width="1.3"/>
<ellipse cx="494.08" cy="553.90" rx="4.4" ry="4.0" fill="#fff" stroke="#1e1e1e" stroke-width="1.3"/>
<line x1="386.55" y1="404.55" x2="404.75" y2="450.35" stroke="#151515" stroke-width="1.6" />
<polygon points="384.70,399.90 385.23,410.45 387.29,406.41 391.55,407.94" fill="#151515"/>
<polygon points="406.60,455.00 406.07,444.45 404.01,448.49 399.75,446.96" fill="#151515"/>
<text transform="translate(404.80,426.90) scale(0.91,1)" font-family='"Liberation Sans", sans-serif' font-size="13.2" fill="#262626" text-anchor="start" font-weight="normal" font-style="normal" >p=0.02</text>
<line x1="555.75" y1="381.61" x2="555.75" y2="619.10" stroke="#e2e2e2" stroke-width="0.8" stroke-dasharray="1 3.5"/>
<line x1="580.80" y1="381.61" x2="580.80" y2="619.10" stroke="#e2e2e2" stroke-width="0.8" stroke-dasharray="1 3.5"/>
<line x1="605.85" y1="381.61" x2="605.85" y2="619.10" stroke="#e2e2e2" stroke-width="0.8" stroke-dasharray="1 3.5"/>
<line x1="630.90" y1="381.61" x2="630.90" y2="619.10" stroke="#e2e2e2" stroke-width="0.8" stroke-dasharray="1 3.5"/>
<line x1="655.95" y1="381.61" x2="655.95" y2="619.10" stroke="#e2e2e2" stroke-width="0.8" stroke-dasharray="1 3.5"/>
<line x1="681.00" y1="381.61" x2="681.00" y2="619.10" stroke="#e2e2e2" stroke-width="0.8" stroke-dasharray="1 3.5"/>
<line x1="530.70" y1="381.61" x2="530.70" y2="619.10" stroke="#2a2a2a" stroke-width="1.2" />
<line x1="527.70" y1="619.10" x2="681.50" y2="619.10" stroke="#505050" stroke-width="1.4" />
<line x1="527.50" y1="619.10" x2="530.70" y2="619.10" stroke="#333" stroke-width="1.0" />
<line x1="527.50" y1="539.94" x2="530.70" y2="539.94" stroke="#333" stroke-width="1.0" />
<line x1="527.50" y1="460.77" x2="530.70" y2="460.77" stroke="#333" stroke-width="1.0" />
<line x1="527.50" y1="381.61" x2="530.70" y2="381.61" stroke="#333" stroke-width="1.0" />
<line x1="530.70" y1="619.10" x2="530.70" y2="621.10" stroke="#333" stroke-width="1.0" />
<text transform="translate(530.70,640.40) scale(0.9,1)" font-family='"Liberation Sans", sans-serif' font-size="14.6" fill="#262626" text-anchor="middle" font-weight="normal" font-style="normal" >0</text>
<line x1="555.75" y1="619.10" x2="555.75" y2="621.10" stroke="#333" stroke-width="1.0" />
<text transform="translate(555.75,640.40) scale(0.9,1)" font-family='"Liberation Sans", sans-serif' font-size="14.6" fill="#262626" text-anchor="middle" font-weight="normal" font-style="normal" >1</text>
<line x1="580.80" y1="619.10" x2="580.80" y2="621.10" stroke="#333" stroke-width="1.0" />
<text transform="translate(580.80,640.40) scale(0.9,1)" font-family='"Liberation Sans", sans-serif' font-size="14.6" fill="#262626" text-anchor="middle" font-weight="normal" font-style="normal" >2</text>
<line x1="605.85" y1="619.10" x2="605.85" y2="621.10" stroke="#333" stroke-width="1.0" />
<text transform="translate(605.85,640.40) scale(0.9,1)" font-family='"Liberation Sans", sans-serif' font-size="14.6" fill="#262626" text-anchor="middle" font-weight="normal" font-style="normal" >3</text>
<line x1="630.90" y1="619.10" x2="630.90" y2="621.10" stroke="#333" stroke-width="1.0" />
<text transform="translate(630.90,640.40) scale(0.9,1)" font-family='"Liberation Sans", sans-serif' font-size="14.6" fill="#262626" text-anchor="middle" font-weight="normal" font-style="normal" >4</text>
<line x1="655.95" y1="619.10" x2="655.95" y2="621.10" stroke="#333" stroke-width="1.0" />
<text transform="translate(655.95,640.40) scale(0.9,1)" font-family='"Liberation Sans", sans-serif' font-size="14.6" fill="#262626" text-anchor="middle" font-weight="normal" font-style="normal" >5</text>
<line x1="681.00" y1="619.10" x2="681.00" y2="621.10" stroke="#333" stroke-width="1.0" />
<text transform="translate(681.00,640.40) scale(0.9,1)" font-family='"Liberation Sans", sans-serif' font-size="14.6" fill="#262626" text-anchor="middle" font-weight="normal" font-style="normal" >6</text>
<line x1="527.70" y1="539.94" x2="682.00" y2="539.94" stroke="#2a2a2a" stroke-width="1.2" />
<text x="537.40" y="382.40" font-family='"Liberation Sans", sans-serif' font-size="13.4" fill="#262626" text-anchor="start" font-weight="normal" font-style="italic" >Occipital</text>
<polyline points="543.23,455.90 568.28,492.30 593.33,520.00 618.38,544.10 643.43,559.40 668.48,543.40" fill="none" stroke="#c4c4c4" stroke-width="3.7" stroke-linejoin="round" />
<polyline points="543.23,463.50 568.28,511.20 593.33,530.70 618.38,537.50 643.43,542.60 668.48,553.50" fill="none" stroke="#151515" stroke-width="3.7" stroke-linejoin="round" />
<line x1="543.23" y1="445.00" x2="543.23" y2="467.00" stroke="#1e1e1e" stroke-width="1.3" />
<line x1="536.93" y1="445.00" x2="549.52" y2="445.00" stroke="#1e1e1e" stroke-width="1.3" />
<line x1="536.93" y1="467.00" x2="549.52" y2="467.00" stroke="#1e1e1e" stroke-width="1.3" />
<line x1="568.28" y1="482.30" x2="568.28" y2="502.10" stroke="#1e1e1e" stroke-width="1.3" />
<line x1="561.98" y1="482.30" x2="574.58" y2="482.30" stroke="#1e1e1e" stroke-width="1.3" />
<line x1="561.98" y1="502.10" x2="574.58" y2="502.10" stroke="#1e1e1e" stroke-width="1.3" />
<line x1="593.33" y1="514.10" x2="593.33" y2="526.00" stroke="#1e1e1e" stroke-width="1.3" />
<line x1="587.03" y1="514.10" x2="599.62" y2="514.10" stroke="#1e1e1e" stroke-width="1.3" />
<line x1="587.03" y1="526.00" x2="599.62" y2="526.00" stroke="#1e1e1e" stroke-width="1.3" />
<line x1="618.38" y1="534.00" x2="618.38" y2="554.00" stroke="#1e1e1e" stroke-width="1.3" />
<line x1="612.08" y1="534.00" x2="624.67" y2="534.00" stroke="#1e1e1e" stroke-width="1.3" />
<line x1="612.08" y1="554.00" x2="624.67" y2="554.00" stroke="#1e1e1e" stroke-width="1.3" />
<line x1="643.43" y1="553.50" x2="643.43" y2="565.70" stroke="#1e1e1e" stroke-width="1.3" />
<line x1="637.13" y1="553.50" x2="649.73" y2="553.50" stroke="#1e1e1e" stroke-width="1.3" />
<line x1="637.13" y1="565.70" x2="649.73" y2="565.70" stroke="#1e1e1e" stroke-width="1.3" />
<line x1="668.48" y1="528.90" x2="668.48" y2="558.00" stroke="#1e1e1e" stroke-width="1.3" />
<line x1="662.18" y1="528.90" x2="674.77" y2="528.90" stroke="#1e1e1e" stroke-width="1.3" />
<line x1="662.18" y1="558.00" x2="674.77" y2="558.00" stroke="#1e1e1e" stroke-width="1.3" />
<line x1="543.23" y1="459.00" x2="543.23" y2="467.80" stroke="#1e1e1e" stroke-width="1.3" />
<line x1="536.93" y1="459.00" x2="549.52" y2="459.00" stroke="#1e1e1e" stroke-width="1.3" />
<line x1="536.93" y1="467.80" x2="549.52" y2="467.80" stroke="#1e1e1e" stroke-width="1.3" />
<line x1="568.28" y1="504.70" x2="568.28" y2="516.90" stroke="#1e1e1e" stroke-width="1.3" />
<line x1="561.98" y1="504.70" x2="574.58" y2="504.70" stroke="#1e1e1e" stroke-width="1.3" />
<line x1="561.98" y1="516.90" x2="574.58" y2="516.90" stroke="#1e1e1e" stroke-width="1.3" />
<line x1="593.33" y1="524.00" x2="593.33" y2="535.00" stroke="#1e1e1e" stroke-width="1.3" />
<line x1="587.03" y1="524.00" x2="599.62" y2="524.00" stroke="#1e1e1e" stroke-width="1.3" />
<line x1="587.03" y1="535.00" x2="599.62" y2="535.00" stroke="#1e1e1e" stroke-width="1.3" />
<line x1="618.38" y1="533.70" x2="618.38" y2="541.00" stroke="#1e1e1e" stroke-width="1.3" />
<line x1="612.08" y1="533.70" x2="624.67" y2="533.70" stroke="#1e1e1e" stroke-width="1.3" />
<line x1="612.08" y1="541.00" x2="624.67" y2="541.00" stroke="#1e1e1e" stroke-width="1.3" />
<line x1="643.43" y1="539.00" x2="643.43" y2="546.00" stroke="#1e1e1e" stroke-width="1.3" />
<line x1="637.13" y1="539.00" x2="649.73" y2="539.00" stroke="#1e1e1e" stroke-width="1.3" />
<line x1="637.13" y1="546.00" x2="649.73" y2="546.00" stroke="#1e1e1e" stroke-width="1.3" />
<line x1="668.48" y1="548.00" x2="668.48" y2="558.60" stroke="#1e1e1e" stroke-width="1.3" />
<line x1="662.18" y1="548.00" x2="674.77" y2="548.00" stroke="#1e1e1e" stroke-width="1.3" />
<line x1="662.18" y1="558.60" x2="674.77" y2="558.60" stroke="#1e1e1e" stroke-width="1.3" />
<ellipse cx="543.23" cy="463.50" rx="5.9" ry="5.4" fill="#141414"/>
<ellipse cx="568.28" cy="511.20" rx="5.9" ry="5.4" fill="#141414"/>
<ellipse cx="593.33" cy="530.70" rx="5.9" ry="5.4" fill="#141414"/>
<ellipse cx="618.38" cy="537.50" rx="5.9" ry="5.4" fill="#141414"/>
<ellipse cx="643.43" cy="542.60" rx="5.9" ry="5.4" fill="#141414"/>
<ellipse cx="668.48" cy="553.50" rx="5.9" ry="5.4" fill="#141414"/>
<ellipse cx="543.23" cy="455.90" rx="5.15" ry="4.65" fill="#fff" stroke="#1e1e1e" stroke-width="1.4"/>
<ellipse cx="568.28" cy="492.30" rx="5.15" ry="4.65" fill="#fff" stroke="#1e1e1e" stroke-width="1.4"/>
<ellipse cx="593.33" cy="520.00" rx="5.15" ry="4.65" fill="#fff" stroke="#1e1e1e" stroke-width="1.4"/>
<ellipse cx="618.38" cy="544.10" rx="5.15" ry="4.65" fill="#fff" stroke="#1e1e1e" stroke-width="1.4"/>
<ellipse cx="643.43" cy="559.40" rx="5.15" ry="4.65" fill="#fff" stroke="#1e1e1e" stroke-width="1.4"/>
<ellipse cx="668.48" cy="543.40" rx="5.15" ry="4.65" fill="#fff" stroke="#1e1e1e" stroke-width="1.4"/>
<line x1="560.27" y1="451.79" x2="576.43" y2="478.81" stroke="#151515" stroke-width="1.6" />
<polygon points="557.70,447.50 559.92,457.83 561.29,453.51 565.75,454.34" fill="#151515"/>
<polygon points="579.00,483.10 576.78,472.77 575.41,477.09 570.95,476.26" fill="#151515"/>
<text transform="translate(574.00,464.50) scale(0.91,1)" font-family='"Liberation Sans", sans-serif' font-size="13.2" fill="#262626" text-anchor="start" font-weight="normal" font-style="normal" >p=0.11</text>
<line x1="369.00" y1="590.00" x2="398.70" y2="590.00" stroke="#151515" stroke-width="3.0" />
<circle cx="383.40" cy="590.00" r="4.4" fill="#141414" stroke="none" stroke-width="0"/>
<line x1="368.00" y1="607.00" x2="398.20" y2="607.00" stroke="#c8c8c8" stroke-width="3.6" />
<circle cx="383.00" cy="607.00" r="4.0" fill="#fff" stroke="#1e1e1e" stroke-width="1.3"/>
<text x="407.10" y="595.20" font-family='"Liberation Sans", sans-serif' font-size="13.4" fill="#262626" text-anchor="start" font-weight="normal" font-style="normal" >WT</text>
<text x="407.10" y="612.90" font-family='"Liberation Sans", sans-serif' font-size="13.4" fill="#262626" text-anchor="start" font-weight="normal" font-style="italic" textLength="30.2" lengthAdjust="spacingAndGlyphs">Gria1</text>
<text x="437.80" y="605.60" font-family='"Liberation Sans", sans-serif' font-size="8.5" fill="#262626" text-anchor="start" font-weight="normal" font-style="italic" >-/-</text>
<text x="519.50" y="663.20" font-family='"Liberation Sans", sans-serif' font-size="14.8" fill="#262626" text-anchor="middle" font-weight="normal" font-style="normal" textLength="88" lengthAdjust="spacingAndGlyphs">Time [Hours]</text>
<text transform="translate(318.9,497.3) rotate(-90)" font-family='"Liberation Sans", sans-serif' font-size="13.95" fill="#262626" text-anchor="middle">SWA (% of BSL)</text>
<text transform="translate(332.9,343.8) scale(0.88,1)" font-family='"Liberation Serif", serif' font-size="20.8" fill="#111" font-weight="bold">c</text>
</svg></body></html>
